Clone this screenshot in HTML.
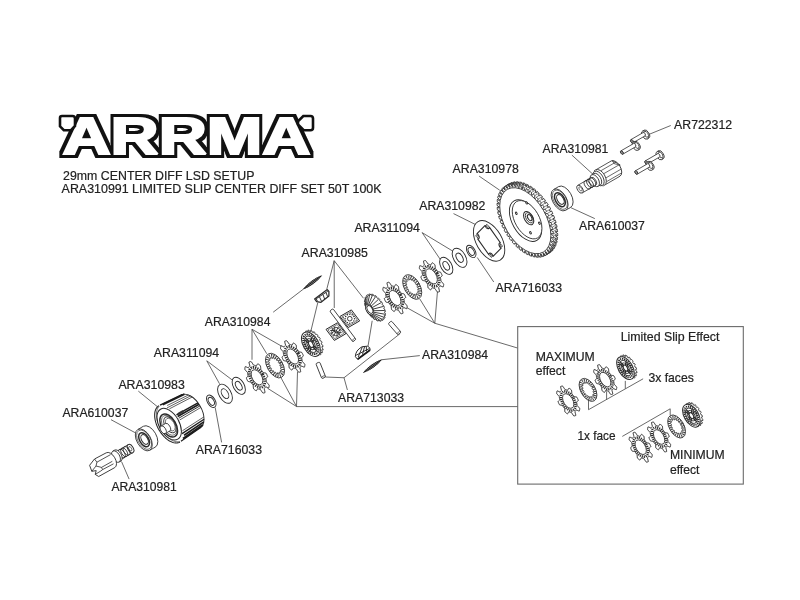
<!DOCTYPE html>
<html><head><meta charset="utf-8"><title>ARRMA 29mm Center Diff LSD Setup</title>
<style>html,body{margin:0;padding:0;background:#fff;}svg{display:block;will-change:transform;}</style></head>
<body>
<svg width="800" height="600" viewBox="0 0 800 600">
<rect width="800" height="600" fill="#fff"/>
<defs><filter id="lg" x="-5%" y="-25%" width="110%" height="150%" color-interpolation-filters="sRGB"><feMorphology in="SourceAlpha" operator="dilate" radius="3" result="o"/><feFlood flood-color="#111"/><feComposite in2="o" operator="in" result="ob"/><feMerge><feMergeNode in="ob"/><feMergeNode in="SourceGraphic"/></feMerge></filter></defs>
<text x="62.5" y="154" textLength="248" lengthAdjust="spacingAndGlyphs" font-family="'Liberation Sans', Arial, sans-serif" font-weight="bold" font-size="52.5" fill="#fff" stroke="#fff" stroke-width="2.2" stroke-linejoin="miter" stroke-miterlimit="2" filter="url(#lg)">ARRMA</text>
<path d="M62 116 H72.5 Q75 116 75 118.5 V126 L71 130.2 H63.8 L60 126.3 V118 Q60 116 62 116Z" fill="#fff" stroke="#111" stroke-width="2.6"/>
<path d="M303.3 116 H310.5 Q313 116 313 118.5 V127.7 Q313 130.2 310.5 130.2 H303.7 L298 124.5 V121.3 Z" fill="#fff" stroke="#111" stroke-width="2.6"/>
<line x1="670.75" y1="125.5" x2="647.5" y2="135" stroke="#444" stroke-width="0.8"/>
<line x1="571.9" y1="155.1" x2="593.75" y2="175" stroke="#444" stroke-width="0.8"/>
<line x1="570.5" y1="207.5" x2="594.8" y2="218.6" stroke="#444" stroke-width="0.8"/>
<line x1="479.1" y1="176.1" x2="499.75" y2="190.25" stroke="#444" stroke-width="0.8"/>
<line x1="453.5" y1="213.6" x2="475" y2="224.3" stroke="#444" stroke-width="0.8"/>
<line x1="422.1" y1="232.6" x2="440.5" y2="259.75" stroke="#444" stroke-width="0.8"/>
<line x1="422.1" y1="232.6" x2="452.2" y2="250.75" stroke="#444" stroke-width="0.8"/>
<line x1="477.25" y1="257.5" x2="493.75" y2="282" stroke="#444" stroke-width="0.8"/>
<line x1="334.2" y1="260.7" x2="326.75" y2="289.25" stroke="#444" stroke-width="0.8"/>
<line x1="334.2" y1="260.7" x2="334.25" y2="308" stroke="#444" stroke-width="0.8"/>
<line x1="334.2" y1="260.7" x2="363.5" y2="298.25" stroke="#444" stroke-width="0.8"/>
<line x1="317.75" y1="302.75" x2="311" y2="330.5" stroke="#444" stroke-width="0.8"/>
<line x1="372.2" y1="320.75" x2="368" y2="346.25" stroke="#444" stroke-width="0.8"/>
<line x1="252" y1="329.3" x2="252" y2="359.75" stroke="#444" stroke-width="0.8"/>
<line x1="252" y1="329.3" x2="266.75" y2="353.75" stroke="#444" stroke-width="0.8"/>
<line x1="252" y1="329.3" x2="281.75" y2="346.25" stroke="#444" stroke-width="0.8"/>
<line x1="273.2" y1="312.2" x2="303.5" y2="289" stroke="#444" stroke-width="0.8"/>
<line x1="381.5" y1="359.75" x2="419.8" y2="355.6" stroke="#444" stroke-width="0.8"/>
<line x1="267.5" y1="388.25" x2="296.5" y2="406.5" stroke="#444" stroke-width="0.8"/>
<line x1="281" y1="377.75" x2="296.5" y2="406.5" stroke="#444" stroke-width="0.8"/>
<line x1="297.5" y1="371.75" x2="296.5" y2="406.5" stroke="#444" stroke-width="0.8"/>
<line x1="296.5" y1="406.6" x2="518" y2="406.6" stroke="#444" stroke-width="0.8"/>
<line x1="437.5" y1="291" x2="434.8" y2="323.25" stroke="#444" stroke-width="0.8"/>
<line x1="419.5" y1="298.5" x2="434.8" y2="323.25" stroke="#444" stroke-width="0.8"/>
<line x1="405.25" y1="306.75" x2="434.8" y2="323.25" stroke="#444" stroke-width="0.8"/>
<line x1="434.8" y1="323.25" x2="517.5" y2="348" stroke="#444" stroke-width="0.8"/>
<polyline points="347.4,390 344,377.75 325.25,377" fill="none" stroke="#444" stroke-width="0.8"/>
<line x1="344" y1="377.75" x2="400.25" y2="333.5" stroke="#444" stroke-width="0.8"/>
<line x1="206.75" y1="360.8" x2="219.5" y2="383.75" stroke="#444" stroke-width="0.8"/>
<line x1="206.75" y1="360.8" x2="232.25" y2="380" stroke="#444" stroke-width="0.8"/>
<line x1="215.2" y1="407.5" x2="221.6" y2="442.4" stroke="#444" stroke-width="0.8"/>
<line x1="138.3" y1="391.1" x2="159" y2="408" stroke="#444" stroke-width="0.8"/>
<line x1="111" y1="419.7" x2="137" y2="433.7" stroke="#444" stroke-width="0.8"/>
<line x1="121.5" y1="461.5" x2="129.1" y2="479.1" stroke="#444" stroke-width="0.8"/>
<rect x="517.7" y="326.6" width="225.6" height="157.5" fill="none" stroke="#6a6a6a" stroke-width="1.1"/>
<line x1="643.1" y1="378.8" x2="588.5" y2="409.7" stroke="#444" stroke-width="0.8"/>
<line x1="588.5" y1="398" x2="588.5" y2="409.7" stroke="#444" stroke-width="0.8"/>
<line x1="606.6" y1="391.3" x2="606.6" y2="399.5" stroke="#444" stroke-width="0.8"/>
<line x1="625.3" y1="380.9" x2="625.3" y2="388.7" stroke="#444" stroke-width="0.8"/>
<line x1="622.3" y1="436.4" x2="670.2" y2="408.8" stroke="#444" stroke-width="0.8"/>
<line x1="670.2" y1="408.8" x2="670.2" y2="415.4" stroke="#444" stroke-width="0.8"/>
<ellipse cx="646.39" cy="134.2" rx="2.65" ry="4.6" transform="rotate(-30 646.39 134.2)" fill="#fff" stroke="#2a2a2a" stroke-width="0.8" />
<path d="M647.3 138.98 L648.69 138.18 L644.09 130.22 L642.7 131.02 Z" fill="#fff" stroke="none" stroke-width="0" stroke-linejoin="round" />
<line x1="647.3" y1="138.98" x2="648.69" y2="138.18" stroke="#2a2a2a" stroke-width="0.8"/>
<line x1="642.7" y1="131.02" x2="644.09" y2="130.22" stroke="#2a2a2a" stroke-width="0.8"/>
<ellipse cx="645" cy="135" rx="2.65" ry="4.6" transform="rotate(-30 645 135)" fill="#fff" stroke="#2a2a2a" stroke-width="0.8" />
<ellipse cx="646.2" cy="134.3" rx="1.85" ry="3.2" transform="rotate(-30 646.2 134.3)" fill="#fff" stroke="#2a2a2a" stroke-width="0.7" />
<ellipse cx="644.04" cy="134.24" rx="1.1" ry="1.9" transform="rotate(-30 644.04 134.24)" fill="#fff" stroke="#2a2a2a" stroke-width="0.8" />
<path d="M632.85 142.9 L644.99 135.89 L643.09 132.6 L630.95 139.6 Z" fill="#fff" stroke="none" stroke-width="0" stroke-linejoin="round" />
<line x1="632.85" y1="142.9" x2="644.99" y2="135.89" stroke="#2a2a2a" stroke-width="0.8"/>
<line x1="630.95" y1="139.6" x2="643.09" y2="132.6" stroke="#2a2a2a" stroke-width="0.8"/>
<ellipse cx="631.9" cy="141.25" rx="1.1" ry="1.9" transform="rotate(-30 631.9 141.25)" fill="#fff" stroke="#2a2a2a" stroke-width="0.8" />
<ellipse cx="631.9" cy="141.25" rx="1.1" ry="1.9" transform="rotate(-30 631.9 141.25)" fill="#fff" stroke="#2a2a2a" stroke-width="0.8" />
<ellipse cx="631.9" cy="141.25" rx="0.58" ry="1" transform="rotate(-30 631.9 141.25)" fill="#fff" stroke="#2a2a2a" stroke-width="0.6" />
<ellipse cx="636.99" cy="145.45" rx="2.65" ry="4.6" transform="rotate(-30 636.99 145.45)" fill="#fff" stroke="#2a2a2a" stroke-width="0.8" />
<path d="M637.9 150.23 L639.29 149.43 L634.69 141.47 L633.3 142.27 Z" fill="#fff" stroke="none" stroke-width="0" stroke-linejoin="round" />
<line x1="637.9" y1="150.23" x2="639.29" y2="149.43" stroke="#2a2a2a" stroke-width="0.8"/>
<line x1="633.3" y1="142.27" x2="634.69" y2="141.47" stroke="#2a2a2a" stroke-width="0.8"/>
<ellipse cx="635.6" cy="146.25" rx="2.65" ry="4.6" transform="rotate(-30 635.6 146.25)" fill="#fff" stroke="#2a2a2a" stroke-width="0.8" />
<ellipse cx="636.8" cy="145.55" rx="1.85" ry="3.2" transform="rotate(-30 636.8 145.55)" fill="#fff" stroke="#2a2a2a" stroke-width="0.7" />
<ellipse cx="634.51" cy="145.22" rx="1.1" ry="1.9" transform="rotate(-30 634.51 145.22)" fill="#fff" stroke="#2a2a2a" stroke-width="0.8" />
<path d="M622.85 154.15 L635.46 146.87 L633.56 143.58 L620.95 150.85 Z" fill="#fff" stroke="none" stroke-width="0" stroke-linejoin="round" />
<line x1="622.85" y1="154.15" x2="635.46" y2="146.87" stroke="#2a2a2a" stroke-width="0.8"/>
<line x1="620.95" y1="150.85" x2="633.56" y2="143.58" stroke="#2a2a2a" stroke-width="0.8"/>
<ellipse cx="621.9" cy="152.5" rx="1.1" ry="1.9" transform="rotate(-30 621.9 152.5)" fill="#fff" stroke="#2a2a2a" stroke-width="0.8" />
<ellipse cx="621.9" cy="152.5" rx="1.1" ry="1.9" transform="rotate(-30 621.9 152.5)" fill="#fff" stroke="#2a2a2a" stroke-width="0.8" />
<ellipse cx="621.9" cy="152.5" rx="0.58" ry="1" transform="rotate(-30 621.9 152.5)" fill="#fff" stroke="#2a2a2a" stroke-width="0.6" />
<ellipse cx="660.79" cy="154.8" rx="2.65" ry="4.6" transform="rotate(-30 660.79 154.8)" fill="#fff" stroke="#2a2a2a" stroke-width="0.8" />
<path d="M661.7 159.58 L663.09 158.78 L658.49 150.82 L657.1 151.62 Z" fill="#fff" stroke="none" stroke-width="0" stroke-linejoin="round" />
<line x1="661.7" y1="159.58" x2="663.09" y2="158.78" stroke="#2a2a2a" stroke-width="0.8"/>
<line x1="657.1" y1="151.62" x2="658.49" y2="150.82" stroke="#2a2a2a" stroke-width="0.8"/>
<ellipse cx="659.4" cy="155.6" rx="2.65" ry="4.6" transform="rotate(-30 659.4 155.6)" fill="#fff" stroke="#2a2a2a" stroke-width="0.8" />
<ellipse cx="660.6" cy="154.9" rx="1.85" ry="3.2" transform="rotate(-30 660.6 154.9)" fill="#fff" stroke="#2a2a2a" stroke-width="0.7" />
<ellipse cx="658.68" cy="155.32" rx="1.1" ry="1.9" transform="rotate(-30 658.68 155.32)" fill="#fff" stroke="#2a2a2a" stroke-width="0.8" />
<path d="M647.2 164.15 L659.63 156.97 L657.73 153.68 L645.3 160.85 Z" fill="#fff" stroke="none" stroke-width="0" stroke-linejoin="round" />
<line x1="647.2" y1="164.15" x2="659.63" y2="156.97" stroke="#2a2a2a" stroke-width="0.8"/>
<line x1="645.3" y1="160.85" x2="657.73" y2="153.68" stroke="#2a2a2a" stroke-width="0.8"/>
<ellipse cx="646.25" cy="162.5" rx="1.1" ry="1.9" transform="rotate(-30 646.25 162.5)" fill="#fff" stroke="#2a2a2a" stroke-width="0.8" />
<ellipse cx="646.25" cy="162.5" rx="1.1" ry="1.9" transform="rotate(-30 646.25 162.5)" fill="#fff" stroke="#2a2a2a" stroke-width="0.8" />
<ellipse cx="646.25" cy="162.5" rx="0.58" ry="1" transform="rotate(-30 646.25 162.5)" fill="#fff" stroke="#2a2a2a" stroke-width="0.6" />
<ellipse cx="650.79" cy="165.45" rx="2.65" ry="4.6" transform="rotate(-30 650.79 165.45)" fill="#fff" stroke="#2a2a2a" stroke-width="0.8" />
<path d="M651.7 170.23 L653.09 169.43 L648.49 161.47 L647.1 162.27 Z" fill="#fff" stroke="none" stroke-width="0" stroke-linejoin="round" />
<line x1="651.7" y1="170.23" x2="653.09" y2="169.43" stroke="#2a2a2a" stroke-width="0.8"/>
<line x1="647.1" y1="162.27" x2="648.49" y2="161.47" stroke="#2a2a2a" stroke-width="0.8"/>
<ellipse cx="649.4" cy="166.25" rx="2.65" ry="4.6" transform="rotate(-30 649.4 166.25)" fill="#fff" stroke="#2a2a2a" stroke-width="0.8" />
<ellipse cx="650.6" cy="165.55" rx="1.85" ry="3.2" transform="rotate(-30 650.6 165.55)" fill="#fff" stroke="#2a2a2a" stroke-width="0.7" />
<ellipse cx="648.43" cy="165.47" rx="1.1" ry="1.9" transform="rotate(-30 648.43 165.47)" fill="#fff" stroke="#2a2a2a" stroke-width="0.8" />
<path d="M637.2 174.15 L649.38 167.12 L647.48 163.82 L635.3 170.85 Z" fill="#fff" stroke="none" stroke-width="0" stroke-linejoin="round" />
<line x1="637.2" y1="174.15" x2="649.38" y2="167.12" stroke="#2a2a2a" stroke-width="0.8"/>
<line x1="635.3" y1="170.85" x2="647.48" y2="163.82" stroke="#2a2a2a" stroke-width="0.8"/>
<ellipse cx="636.25" cy="172.5" rx="1.1" ry="1.9" transform="rotate(-30 636.25 172.5)" fill="#fff" stroke="#2a2a2a" stroke-width="0.8" />
<ellipse cx="636.25" cy="172.5" rx="1.1" ry="1.9" transform="rotate(-30 636.25 172.5)" fill="#fff" stroke="#2a2a2a" stroke-width="0.8" />
<ellipse cx="636.25" cy="172.5" rx="0.58" ry="1" transform="rotate(-30 636.25 172.5)" fill="#fff" stroke="#2a2a2a" stroke-width="0.6" />
<ellipse cx="615.5" cy="168.64" rx="5.08" ry="8.8" transform="rotate(-30 615.5 168.64)" fill="#fff" stroke="#2a2a2a" stroke-width="0.8" />
<path d="M602.9 186.08 L619.9 176.27 L611.1 161.02 L594.1 170.84 Z" fill="#fff" stroke="none" stroke-width="0" stroke-linejoin="round" />
<line x1="602.9" y1="186.08" x2="619.9" y2="176.27" stroke="#2a2a2a" stroke-width="0.8"/>
<line x1="594.1" y1="170.84" x2="611.1" y2="161.02" stroke="#2a2a2a" stroke-width="0.8"/>
<path d="M612.17 160.65 L614.34 163.72 L620.28 165.13 L618.32 163.87 Z" fill="#fff" stroke="#2a2a2a" stroke-width="0.7" stroke-linejoin="round" />
<line x1="601.09" y1="170.61" x2="616.18" y2="161.9" stroke="#2a2a2a" stroke-width="0.7"/>
<line x1="603.99" y1="173.56" x2="619.08" y2="164.84" stroke="#2a2a2a" stroke-width="0.7"/>
<line x1="606.1" y1="177.77" x2="621.2" y2="169.05" stroke="#2a2a2a" stroke-width="0.7"/>
<line x1="606.6" y1="181.64" x2="621.69" y2="172.92" stroke="#2a2a2a" stroke-width="0.7"/>
<ellipse cx="600.1" cy="177.56" rx="5.08" ry="8.8" transform="rotate(-30 600.1 177.56)" fill="#fff" stroke="#2a2a2a" stroke-width="0.8" />
<path d="M602.5 185.39 L604.5 185.18 L595.7 169.94 L594.5 171.53 Z" fill="#fff" stroke="none" stroke-width="0" stroke-linejoin="round" />
<ellipse cx="598.5" cy="178.46" rx="4.62" ry="8" transform="rotate(-30 598.5 178.46)" fill="#fff" stroke="#2a2a2a" stroke-width="0.8" />
<ellipse cx="597.05" cy="179.3" rx="3.81" ry="6.6" transform="rotate(-30 597.05 179.3)" fill="#fff" stroke="#2a2a2a" stroke-width="0.8" />
<path d="M598.1 186.31 L600.35 185.01 L593.75 173.58 L591.5 174.88 Z" fill="#fff" stroke="none" stroke-width="0" stroke-linejoin="round" />
<line x1="598.1" y1="186.31" x2="600.35" y2="185.01" stroke="#2a2a2a" stroke-width="0.8"/>
<line x1="591.5" y1="174.88" x2="593.75" y2="173.58" stroke="#2a2a2a" stroke-width="0.8"/>
<ellipse cx="594.8" cy="180.6" rx="3.81" ry="6.6" transform="rotate(-30 594.8 180.6)" fill="#fff" stroke="#2a2a2a" stroke-width="0.8" />
<ellipse cx="593.42" cy="181.39" rx="2.54" ry="4.4" transform="rotate(-30 593.42 181.39)" fill="#fff" stroke="#2a2a2a" stroke-width="0.8" />
<path d="M582.2 192.95 L595.62 185.2 L591.22 177.58 L577.8 185.33 Z" fill="#fff" stroke="none" stroke-width="0" stroke-linejoin="round" />
<line x1="582.2" y1="192.95" x2="595.62" y2="185.2" stroke="#2a2a2a" stroke-width="0.8"/>
<line x1="577.8" y1="185.33" x2="591.22" y2="177.58" stroke="#2a2a2a" stroke-width="0.8"/>
<ellipse cx="580" cy="189.14" rx="2.54" ry="4.4" transform="rotate(-30 580 189.14)" fill="#fff" stroke="#2a2a2a" stroke-width="0.8" />
<ellipse cx="580.5" cy="188.84" rx="1.33" ry="2.3" transform="rotate(-30 580.5 188.84)" fill="#fff" stroke="#2a2a2a" stroke-width="0.6" />
<ellipse cx="587.5" cy="184.81" rx="2.71" ry="4.7" transform="rotate(-30 587.5 184.81)" fill="none" stroke="#2a2a2a" stroke-width="0.8" />
<ellipse cx="590" cy="183.37" rx="2.71" ry="4.7" transform="rotate(-30 590 183.37)" fill="none" stroke="#2a2a2a" stroke-width="0.8" />
<ellipse cx="592.3" cy="182.04" rx="2.71" ry="4.7" transform="rotate(-30 592.3 182.04)" fill="none" stroke="#2a2a2a" stroke-width="0.8" />
<ellipse cx="564.62" cy="197" rx="6.92" ry="12" transform="rotate(-30 564.62 197)" fill="#fff" stroke="#2a2a2a" stroke-width="0.8" />
<path d="M565.6 210.29 L570.62 207.39 L558.62 186.61 L553.6 189.51 Z" fill="#fff" stroke="none" stroke-width="0" stroke-linejoin="round" />
<line x1="565.6" y1="210.29" x2="570.62" y2="207.39" stroke="#2a2a2a" stroke-width="0.8"/>
<line x1="553.6" y1="189.51" x2="558.62" y2="186.61" stroke="#2a2a2a" stroke-width="0.8"/>
<ellipse cx="559.6" cy="199.9" rx="6.92" ry="12" transform="rotate(-30 559.6 199.9)" fill="#fff" stroke="#2a2a2a" stroke-width="0.8" />
<ellipse cx="559.9" cy="199.7" rx="6.12" ry="10.6" transform="rotate(-30 559.9 199.7)" fill="none" stroke="#2a2a2a" stroke-width="0.6" />
<ellipse cx="559.9" cy="199.7" rx="4.44" ry="7.7" transform="rotate(-30 559.9 199.7)" fill="#fff" stroke="#2a2a2a" stroke-width="1.5" />
<ellipse cx="560.4" cy="199.45" rx="3.06" ry="5.3" transform="rotate(-30 560.4 199.45)" fill="#fff" stroke="#2a2a2a" stroke-width="1.0" />
<path d="M549.46 252.96 L549.77 252.78 L550.07 252.58 L550.38 252.38 L550.67 252.17 L549.4 249.51 L549.67 249.3 L549.93 249.08 L551.8 251.24 L552.07 250.99 L552.34 250.73 L552.6 250.46 L552.85 250.19 L551.38 247.61 L551.6 247.34 L551.82 247.06 L553.8 249 L554.02 248.69 L554.24 248.37 L554.45 248.04 L554.65 247.7 L553.01 245.25 L553.19 244.93 L553.36 244.59 L555.41 246.28 L555.58 245.91 L555.75 245.53 L555.91 245.14 L556.06 244.75 L554.27 242.47 L554.4 242.09 L554.53 241.71 L556.61 243.12 L556.73 242.69 L556.85 242.26 L556.95 241.83 L557.05 241.39 L555.14 239.3 L555.22 238.88 L555.29 238.45 L557.39 239.56 L557.45 239.09 L557.51 238.62 L557.56 238.14 L557.61 237.66 L555.6 235.8 L555.63 235.34 L555.65 234.88 L557.72 235.67 L557.73 235.17 L557.73 234.66 L557.73 234.14 L557.72 233.62 L555.65 232.03 L555.63 231.54 L555.6 231.05 L557.61 231.51 L557.56 230.97 L557.51 230.43 L557.45 229.89 L557.38 229.35 L555.29 228.04 L555.22 227.53 L555.14 227.01 L557.05 227.14 L556.95 226.58 L556.84 226.02 L556.73 225.46 L556.61 224.9 L554.52 223.9 L554.4 223.37 L554.27 222.84 L556.06 222.63 L555.9 222.06 L555.74 221.49 L555.58 220.92 L555.4 220.34 L553.36 219.67 L553.18 219.13 L553 218.6 L554.65 218.05 L554.44 217.48 L554.23 216.9 L554.01 216.33 L553.79 215.76 L551.81 215.41 L551.6 214.88 L551.37 214.36 L552.84 213.48 L552.59 212.91 L552.33 212.34 L552.06 211.78 L551.79 211.21 L549.92 211.21 L549.66 210.69 L549.39 210.17 L550.66 208.98 L550.36 208.43 L550.06 207.87 L549.76 207.33 L549.44 206.78 L547.7 207.11 L547.4 206.61 L547.1 206.12 L548.15 204.63 L547.81 204.1 L547.47 203.57 L547.13 203.05 L546.78 202.53 L545.2 203.2 L544.87 202.72 L544.53 202.25 L545.34 200.49 L544.97 200 L544.6 199.5 L544.22 199.01 L543.84 198.53 L542.44 199.52 L542.08 199.08 L541.72 198.64 L542.29 196.64 L541.89 196.18 L541.49 195.73 L541.08 195.28 L540.68 194.84 L539.49 196.14 L539.1 195.74 L538.72 195.34 L539.03 193.13 L538.61 192.72 L538.19 192.31 L537.76 191.91 L537.34 191.52 L536.37 193.1 L535.97 192.75 L535.57 192.41 L535.62 190.02 L535.18 189.66 L534.75 189.31 L534.31 188.96 L533.87 188.62 L533.14 190.47 L532.74 190.17 L532.33 189.88 L532.11 187.35 L531.67 187.05 L531.22 186.76 L530.78 186.47 L530.34 186.2 L529.86 188.28 L529.45 188.03 L529.04 187.8 L528.63 187.57 L528.12 184.93 L527.67 184.7 L527.23 184.49 L526.79 184.27 L526.57 186.55 L526.16 186.37 L525.75 186.2 L525.03 183.51 L524.59 183.34 L524.15 183.18 L523.71 183.03 L523.28 182.89 L523.33 185.33 L522.93 185.22 L522.53 185.11 L521.56 182.41 L521.13 182.31 L520.71 182.22 L520.29 182.14 L519.87 182.06 L520.18 184.63 L519.8 184.58 L519.41 184.54 L518.22 181.86 L517.81 181.84 L517.41 181.82 L517.01 181.81 L516.61 181.81 L517.18 184.46 L516.82 184.48 L516.46 184.51 L515.06 181.9 L514.68 181.94 L514.3 182 L513.93 182.06 L513.56 182.13 L514.37 184.83 L514.04 184.91 L513.7 185 L512.12 182.51 L511.77 182.62 L511.43 182.75 L511.09 182.88 L510.75 183.02 L511.8 185.72 L511.5 185.87 L511.2 186.03 L509.46 183.68 L509.15 183.87 L508.84 184.06 L508.54 184.26 L508.24 184.47 L509.51 187.13 L509.24 187.34 L508.98 187.56 L507.11 185.4 L506.84 185.65 L506.58 185.91 L506.32 186.18 L506.07 186.46 L507.53 189.03 L507.31 189.3 L507.09 189.58 L505.11 187.64 L504.89 187.95 L504.67 188.28 L504.46 188.6 L504.26 188.94 L505.9 191.39 L505.72 191.72 L505.55 192.05 L503.5 190.36 L503.33 190.73 L503.16 191.11 L503 191.5 L502.85 191.89 L504.64 194.18 L504.51 194.55 L504.39 194.93 L502.3 193.52 L502.18 193.95 L502.07 194.38 L501.96 194.81 L501.86 195.26 L503.77 197.34 L503.69 197.76 L503.62 198.19 L501.53 197.08 L501.46 197.55 L501.4 198.02 L501.35 198.5 L501.31 198.99 L503.31 200.84 L503.28 201.3 L503.26 201.76 L501.19 200.97 L501.18 201.48 L501.18 201.99 L501.18 202.5 L501.2 203.02 L503.26 204.61 L503.28 205.1 L503.31 205.59 L501.31 205.13 L501.35 205.67 L501.41 206.21 L501.46 206.75 L501.53 207.3 L503.62 208.6 L503.7 209.11 L503.78 209.63 L501.86 209.5 L501.96 210.06 L502.07 210.62 L502.19 211.18 L502.31 211.75 L504.39 212.75 L504.52 213.27 L504.65 213.8 L502.86 214.01 L503.01 214.58 L503.17 215.15 L503.34 215.73 L503.51 216.3 L505.56 216.98 L505.73 217.51 L505.91 218.04 L504.27 218.59 L504.47 219.16 L504.68 219.74 L504.9 220.31 L505.12 220.88 L507.1 221.23 L507.32 221.76 L507.54 222.29 L506.08 223.17 L506.33 223.73 L506.59 224.3 L506.85 224.86 L507.12 225.43 L508.99 225.43 L509.25 225.95 L509.52 226.47 L508.25 227.66 L508.55 228.22 L508.85 228.77 L509.16 229.32 L509.47 229.86 L511.21 229.53 L511.51 230.03 L511.81 230.53 L512.12 231.02 L511.1 232.54 L511.44 233.07 L511.78 233.59 L512.13 234.11 L513.72 233.44 L514.05 233.92 L514.38 234.39 L513.57 236.15 L513.94 236.65 L514.31 237.14 L514.69 237.63 L515.07 238.11 L516.47 237.12 L516.83 237.56 L517.19 238 L516.63 240 L517.03 240.46 L517.43 240.91 L517.83 241.36 L518.24 241.8 L519.43 240.51 L519.81 240.9 L520.19 241.3 L520.58 241.69 L520.31 243.92 L520.73 244.33 L521.15 244.73 L521.58 245.12 L522.54 243.54 L522.94 243.89 L523.34 244.23 L523.3 246.63 L523.73 246.98 L524.17 247.34 L524.6 247.68 L525.04 248.02 L525.77 246.17 L526.18 246.47 L526.59 246.76 L526.8 249.29 L527.25 249.59 L527.69 249.89 L528.13 250.17 L528.58 250.45 L529.05 248.37 L529.46 248.61 L529.88 248.84 L530.35 251.47 L530.8 251.71 L531.24 251.94 L531.68 252.16 L532.13 252.37 L532.34 250.09 L532.75 250.27 L533.16 250.44 L533.89 253.13 L534.33 253.3 L534.76 253.46 L535.2 253.61 L535.63 253.75 L535.59 251.31 L535.99 251.42 L536.38 251.53 L537.35 254.24 L537.78 254.34 L538.2 254.43 L538.62 254.51 L539.04 254.58 L538.73 252.01 L539.12 252.06 L539.5 252.1 L540.69 254.78 L541.1 254.8 L541.5 254.82 L541.9 254.83 L542.3 254.83 L541.74 252.18 L542.1 252.16 L542.46 252.14 L543.86 254.74 L544.24 254.7 L544.62 254.65 L544.99 254.58 L545.36 254.51 L544.54 251.81 L544.88 251.73 L545.21 251.64 L546.79 254.14 L547.14 254.02 L547.49 253.89 L547.83 253.76 L548.16 253.62 L547.11 250.92 L547.42 250.77 L547.71 250.61 Z" fill="#fff" stroke="#2a2a2a" stroke-width="0.9" stroke-linejoin="round" />
<path d="M545.3 255.36L549.46 252.96M546.63 254.48L550.79 252.08M547.65 253.64L551.8 251.24M548.79 252.47L552.95 250.07M549.64 251.4L553.8 249M550.58 249.96L554.73 247.56M551.25 248.68L555.41 246.28M551.97 246.99L556.12 244.59M552.46 245.52L556.61 243.12M552.93 243.61L557.09 241.21M553.23 241.96L557.39 239.56M553.47 239.86L557.62 237.46M553.56 238.07L557.72 235.67M553.56 235.81L557.71 233.41M553.45 233.91L557.61 231.51M553.2 231.53L557.35 229.13M552.89 229.54L557.05 227.14M552.4 227.07L556.56 224.67M551.9 225.03L556.06 222.63M551.18 222.51L555.33 220.11M550.49 220.45L554.65 218.05M549.54 217.93L553.7 215.53M548.68 215.88L552.84 213.48M547.53 213.39L551.68 210.99M546.5 211.38L550.66 208.98M545.16 208.96L549.32 206.56M543.99 207.03L548.15 204.63M542.48 204.72L546.64 202.32M541.19 202.89L545.34 200.49M539.53 200.74L543.69 198.34M538.13 199.04L542.29 196.64M536.36 197.06L540.52 194.66M534.87 195.53L539.03 193.13M533.01 193.76L537.17 191.36M531.46 192.42L535.62 190.02M529.54 190.89L533.7 188.49M527.95 189.75L532.11 187.35M526 188.49L530.16 186.09M524.4 187.57L528.56 185.17M522.45 186.59L526.61 184.19M520.87 185.91L525.03 183.51M518.95 185.23L523.11 182.83M517.4 184.81L521.56 182.41M515.55 184.44L519.7 182.04M514.06 184.26L518.22 181.86M512.3 184.21L516.45 181.81M510.9 184.3L515.06 181.9M509.25 184.56L513.41 182.16M507.96 184.91L512.12 182.51M506.46 185.48L510.62 183.08M505.3 186.08L509.46 183.68M503.97 186.96L508.12 184.56M502.95 187.8L507.11 185.4M501.81 188.97L505.97 186.57M500.96 190.04L505.11 187.64M500.02 191.48L504.18 189.08M499.35 192.76L503.5 190.36M498.63 194.45L502.79 192.05M498.14 195.92L502.3 193.52M497.67 197.83L501.82 195.43M497.37 199.48L501.53 197.08M497.13 201.58L501.29 199.18M497.04 203.37L501.19 200.97M497.04 205.63L501.2 203.23M497.15 207.53L501.31 205.13M497.4 209.91L501.56 207.51M497.71 211.9L501.86 209.5M498.2 214.37L502.36 211.97M498.7 216.41L502.86 214.01M499.42 218.93L503.58 216.53M500.11 220.99L504.27 218.59M501.06 223.51L505.21 221.11M501.92 225.57L506.08 223.17M503.07 228.05L507.23 225.65M504.1 230.06L508.25 227.66M505.44 232.48L509.6 230.08M506.61 234.41L510.76 232.01M508.12 236.72L512.27 234.32M509.41 238.55L513.57 236.15M511.07 240.71L515.22 238.31M512.47 242.4L516.63 240M514.24 244.38L518.4 241.98M515.73 245.91L519.89 243.51M517.59 247.68L521.75 245.28M519.14 249.03L523.3 246.63M521.06 250.55L525.22 248.15M522.65 251.69L526.8 249.29M524.6 252.96L528.75 250.56M526.2 253.87L530.35 251.47M528.15 254.85L532.3 252.45M529.73 255.53L533.89 253.13M531.65 256.21L535.81 253.81M533.2 256.64L537.35 254.24M535.05 257L539.21 254.6M536.54 257.18L540.69 254.78M538.3 257.23L542.46 254.83M539.7 257.14L543.86 254.74M541.35 256.88L545.5 254.48M542.64 256.54L546.79 254.14M544.14 255.96L548.3 253.56" fill="none" stroke="#333" stroke-width="0.6"/>
<path d="M545.3 255.36 L545.61 255.18 L545.92 254.98 L546.22 254.78 L546.52 254.57 L545.25 251.91 L545.51 251.7 L545.77 251.48 L547.65 253.64 L547.92 253.39 L548.18 253.13 L548.44 252.86 L548.69 252.59 L547.22 250.01 L547.45 249.74 L547.67 249.46 L549.64 251.4 L549.87 251.09 L550.08 250.77 L550.29 250.44 L550.5 250.1 L548.85 247.65 L549.03 247.33 L549.21 246.99 L551.25 248.68 L551.43 248.31 L551.59 247.93 L551.75 247.54 L551.91 247.15 L550.11 244.87 L550.24 244.49 L550.37 244.11 L552.46 245.52 L552.58 245.09 L552.69 244.66 L552.8 244.23 L552.9 243.79 L550.98 241.7 L551.06 241.28 L551.14 240.85 L553.23 241.96 L553.29 241.49 L553.35 241.02 L553.41 240.54 L553.45 240.06 L551.45 238.2 L551.47 237.74 L551.5 237.28 L553.56 238.07 L553.57 237.57 L553.58 237.06 L553.57 236.54 L553.56 236.02 L551.5 234.43 L551.47 233.94 L551.44 233.45 L553.45 233.91 L553.4 233.37 L553.35 232.83 L553.29 232.29 L553.23 231.75 L551.13 230.44 L551.06 229.93 L550.98 229.41 L552.89 229.54 L552.79 228.98 L552.69 228.42 L552.57 227.86 L552.45 227.3 L550.36 226.3 L550.24 225.77 L550.11 225.24 L551.9 225.03 L551.75 224.46 L551.59 223.89 L551.42 223.32 L551.25 222.74 L549.2 222.07 L549.03 221.53 L548.85 221 L550.49 220.45 L550.29 219.88 L550.07 219.3 L549.86 218.73 L549.63 218.16 L547.66 217.81 L547.44 217.28 L547.22 216.76 L548.68 215.88 L548.43 215.31 L548.17 214.74 L547.91 214.18 L547.64 213.61 L545.76 213.61 L545.5 213.09 L545.24 212.57 L546.5 211.38 L546.21 210.83 L545.91 210.27 L545.6 209.73 L545.29 209.18 L543.55 209.51 L543.25 209.01 L542.94 208.52 L543.99 207.03 L543.66 206.5 L543.32 205.97 L542.97 205.45 L542.62 204.93 L541.04 205.6 L540.71 205.12 L540.37 204.65 L541.19 202.89 L540.82 202.4 L540.44 201.9 L540.07 201.41 L539.69 200.93 L538.29 201.92 L537.93 201.48 L537.56 201.04 L538.13 199.04 L537.73 198.58 L537.33 198.13 L536.93 197.68 L536.52 197.24 L535.33 198.54 L534.95 198.14 L534.56 197.74 L534.87 195.53 L534.45 195.12 L534.03 194.71 L533.61 194.31 L533.18 193.92 L532.21 195.5 L531.81 195.15 L531.41 194.81 L531.46 192.42 L531.03 192.06 L530.59 191.71 L530.15 191.36 L529.71 191.02 L528.99 192.87 L528.58 192.57 L528.17 192.28 L527.95 189.75 L527.51 189.45 L527.07 189.16 L526.62 188.87 L526.18 188.6 L525.7 190.68 L525.29 190.43 L524.88 190.2 L524.47 189.97 L523.96 187.33 L523.52 187.1 L523.07 186.89 L522.63 186.67 L522.41 188.95 L522.01 188.77 L521.6 188.6 L520.87 185.91 L520.43 185.74 L519.99 185.58 L519.56 185.43 L519.12 185.29 L519.17 187.73 L518.77 187.62 L518.37 187.51 L517.4 184.81 L516.98 184.71 L516.55 184.62 L516.13 184.54 L515.71 184.46 L516.02 187.03 L515.64 186.98 L515.26 186.94 L514.06 184.26 L513.66 184.24 L513.25 184.22 L512.85 184.21 L512.46 184.21 L513.02 186.86 L512.66 186.88 L512.3 186.91 L510.9 184.3 L510.52 184.34 L510.14 184.4 L509.77 184.46 L509.4 184.53 L510.21 187.23 L509.88 187.31 L509.55 187.4 L507.96 184.91 L507.61 185.02 L507.27 185.15 L506.93 185.28 L506.59 185.42 L507.64 188.12 L507.34 188.27 L507.04 188.43 L505.3 186.08 L504.99 186.27 L504.68 186.46 L504.38 186.66 L504.08 186.87 L505.35 189.53 L505.09 189.74 L504.83 189.96 L502.95 187.8 L502.68 188.05 L502.42 188.31 L502.16 188.58 L501.91 188.86 L503.38 191.43 L503.15 191.7 L502.93 191.98 L500.96 190.04 L500.73 190.35 L500.52 190.68 L500.31 191 L500.1 191.34 L501.75 193.79 L501.57 194.12 L501.39 194.45 L499.35 192.76 L499.17 193.13 L499.01 193.51 L498.85 193.9 L498.69 194.29 L500.49 196.58 L500.36 196.95 L500.23 197.33 L498.14 195.92 L498.02 196.35 L497.91 196.78 L497.8 197.21 L497.7 197.66 L499.62 199.74 L499.54 200.16 L499.46 200.59 L497.37 199.48 L497.31 199.95 L497.25 200.42 L497.19 200.9 L497.15 201.39 L499.15 203.24 L499.13 203.7 L499.1 204.16 L497.04 203.37 L497.03 203.88 L497.02 204.39 L497.03 204.9 L497.04 205.42 L499.1 207.01 L499.13 207.5 L499.16 207.99 L497.15 207.53 L497.2 208.07 L497.25 208.61 L497.31 209.15 L497.37 209.7 L499.47 211 L499.54 211.51 L499.62 212.03 L497.71 211.9 L497.81 212.46 L497.91 213.02 L498.03 213.58 L498.15 214.15 L500.24 215.15 L500.36 215.67 L500.49 216.2 L498.7 216.41 L498.85 216.98 L499.01 217.55 L499.18 218.13 L499.35 218.7 L501.4 219.38 L501.57 219.91 L501.75 220.44 L500.11 220.99 L500.31 221.56 L500.53 222.14 L500.74 222.71 L500.97 223.28 L502.94 223.63 L503.16 224.16 L503.38 224.69 L501.92 225.57 L502.17 226.13 L502.43 226.7 L502.69 227.26 L502.96 227.83 L504.84 227.83 L505.1 228.35 L505.36 228.87 L504.1 230.06 L504.39 230.62 L504.69 231.17 L505 231.72 L505.31 232.26 L507.05 231.93 L507.35 232.43 L507.66 232.93 L507.96 233.42 L506.94 234.94 L507.28 235.47 L507.63 235.99 L507.98 236.51 L509.56 235.84 L509.89 236.32 L510.23 236.79 L509.41 238.55 L509.78 239.05 L510.16 239.54 L510.53 240.03 L510.91 240.51 L512.31 239.52 L512.67 239.96 L513.04 240.4 L512.47 242.4 L512.87 242.86 L513.27 243.31 L513.67 243.76 L514.08 244.2 L515.27 242.91 L515.65 243.3 L516.04 243.7 L516.42 244.09 L516.15 246.32 L516.57 246.73 L516.99 247.13 L517.42 247.52 L518.39 245.94 L518.79 246.29 L519.19 246.63 L519.14 249.03 L519.57 249.38 L520.01 249.74 L520.45 250.08 L520.89 250.42 L521.61 248.57 L522.02 248.87 L522.43 249.16 L522.65 251.69 L523.09 251.99 L523.53 252.29 L523.98 252.57 L524.42 252.85 L524.9 250.77 L525.31 251.01 L525.72 251.24 L526.2 253.87 L526.64 254.11 L527.08 254.34 L527.53 254.56 L527.97 254.77 L528.19 252.49 L528.59 252.67 L529 252.84 L529.73 255.53 L530.17 255.7 L530.61 255.86 L531.04 256.01 L531.48 256.15 L531.43 253.71 L531.83 253.82 L532.23 253.93 L533.2 256.64 L533.62 256.74 L534.05 256.83 L534.47 256.91 L534.89 256.98 L534.58 254.41 L534.96 254.46 L535.34 254.5 L536.54 257.18 L536.94 257.2 L537.35 257.22 L537.75 257.23 L538.14 257.23 L537.58 254.58 L537.94 254.56 L538.3 254.54 L539.7 257.14 L540.08 257.1 L540.46 257.05 L540.83 256.98 L541.2 256.91 L540.39 254.21 L540.72 254.13 L541.05 254.04 L542.64 256.54 L542.99 256.42 L543.33 256.29 L543.67 256.16 L544.01 256.02 L542.96 253.32 L543.26 253.17 L543.56 253.01 Z" fill="#fff" stroke="#2a2a2a" stroke-width="0.9" stroke-linejoin="round" />
<ellipse cx="525.3" cy="220.72" rx="20.89" ry="36.2" transform="rotate(-30 525.3 220.72)" fill="#fff" stroke="#2a2a2a" stroke-width="0.8" />
<ellipse cx="525.5" cy="220.62" rx="13.16" ry="22.8" transform="rotate(-30 525.5 220.62)" fill="#fff" stroke="#2a2a2a" stroke-width="0.9" />
<ellipse cx="527.1" cy="219.72" rx="12.12" ry="21" transform="rotate(-30 527.1 219.72)" fill="#fff" stroke="#2a2a2a" stroke-width="0.8" />
<ellipse cx="528.7" cy="218.12" rx="4.21" ry="7.3" transform="rotate(-30 528.7 218.12)" fill="#fff" stroke="#2a2a2a" stroke-width="1.0" />
<ellipse cx="529.3" cy="217.77" rx="3.23" ry="5.6" transform="rotate(-30 529.3 217.77)" fill="none" stroke="#2a2a2a" stroke-width="0.8" />
<ellipse cx="529.7" cy="217.62" rx="1.9" ry="3.3" transform="rotate(-30 529.7 217.62)" fill="#fff" stroke="#2a2a2a" stroke-width="1.1" />
<ellipse cx="516.3" cy="213.3" rx="0.75" ry="1.3" transform="rotate(-30 516.3 213.3)" fill="#fff" stroke="#2a2a2a" stroke-width="0.9" />
<ellipse cx="526.6" cy="202.9" rx="0.75" ry="1.3" transform="rotate(-30 526.6 202.9)" fill="#fff" stroke="#2a2a2a" stroke-width="0.9" />
<ellipse cx="539.4" cy="223.2" rx="0.75" ry="1.3" transform="rotate(-30 539.4 223.2)" fill="#fff" stroke="#2a2a2a" stroke-width="0.9" />
<ellipse cx="530.5" cy="232.8" rx="0.75" ry="1.3" transform="rotate(-30 530.5 232.8)" fill="#fff" stroke="#2a2a2a" stroke-width="0.9" />
<ellipse cx="489.1" cy="240.9" rx="12.81" ry="22.2" transform="rotate(-30 489.1 240.9)" fill="#fff" stroke="#2a2a2a" stroke-width="0.9" />
<path d="M488.87 254.71 L488.91 254.15 L489.08 253.69 L489.35 253.35 L489.72 253.16 L490.17 253.13 L490.66 253.25 L491.17 253.52 L491.66 253.93 L492.12 254.45 L492.52 255.05 L492.82 255.7 L493.02 256.36 L501.17 248.15 L500.67 247.8 L500.19 247.33 L499.76 246.77 L499.41 246.14 L499.16 245.48 L499.02 244.83 L499 244.24 L499.1 243.72 L499.32 243.32 L499.65 243.05 L500.05 242.93 L500.52 242.97 L489.33 227.09 L489.29 227.65 L489.12 228.11 L488.85 228.45 L488.48 228.64 L488.03 228.67 L487.54 228.55 L487.03 228.28 L486.54 227.87 L486.08 227.35 L485.68 226.75 L485.38 226.1 L485.18 225.44 L477.03 233.65 L477.53 234 L478.01 234.47 L478.44 235.03 L478.79 235.66 L479.04 236.32 L479.18 236.97 L479.2 237.56 L479.1 238.08 L478.88 238.48 L478.55 238.75 L478.15 238.87 L477.68 238.83 Z" fill="#fff" stroke="#2a2a2a" stroke-width="1.1" stroke-linejoin="round" />
<ellipse cx="490.99" cy="255.86" rx="0.87" ry="1.5" transform="rotate(-30 490.99 255.86)" fill="#fff" stroke="#2a2a2a" stroke-width="0.8" />
<ellipse cx="501.11" cy="245.67" rx="0.87" ry="1.5" transform="rotate(-30 501.11 245.67)" fill="#fff" stroke="#2a2a2a" stroke-width="0.8" />
<ellipse cx="487.21" cy="225.94" rx="0.87" ry="1.5" transform="rotate(-30 487.21 225.94)" fill="#fff" stroke="#2a2a2a" stroke-width="0.8" />
<ellipse cx="477.09" cy="236.13" rx="0.87" ry="1.5" transform="rotate(-30 477.09 236.13)" fill="#fff" stroke="#2a2a2a" stroke-width="0.8" />
<ellipse cx="471.2" cy="251.4" rx="3.92" ry="6.8" transform="rotate(-30 471.2 251.4)" fill="#fff" stroke="#2a2a2a" stroke-width="0.9" />
<ellipse cx="471.2" cy="251.4" rx="2.54" ry="4.4" transform="rotate(-30 471.2 251.4)" fill="#fff" stroke="#2a2a2a" stroke-width="0.9" />
<ellipse cx="459.6" cy="257.8" rx="6.06" ry="10.5" transform="rotate(-30 459.6 257.8)" fill="#fff" stroke="#2a2a2a" stroke-width="0.9" />
<ellipse cx="459.6" cy="257.8" rx="2.94" ry="5.1" transform="rotate(-30 459.6 257.8)" fill="#fff" stroke="#2a2a2a" stroke-width="0.9" />
<ellipse cx="446.25" cy="265.8" rx="5.42" ry="9.4" transform="rotate(-30 446.25 265.8)" fill="#fff" stroke="#2a2a2a" stroke-width="0.9" />
<ellipse cx="446.25" cy="265.8" rx="2.71" ry="4.7" transform="rotate(-30 446.25 265.8)" fill="#fff" stroke="#2a2a2a" stroke-width="0.9" />
<path d="M439.15 289.55 L438.95 288.79 L438.72 288.02 L438.67 287.59 L438.82 287.47 L438.97 287.34 L439.11 287.21 L439.25 287.07 L439.38 286.93 L439.5 286.78 L439.63 286.62 L439.74 286.45 L439.86 286.28 L439.96 286.11 L440.06 285.92 L440.16 285.74 L440.6 285.91 L441.19 286.22 L441.79 286.49 L442.39 286.74 L442.99 286.96 L443.29 286.88 L443.36 286.58 L443.43 286.29 L443.49 285.98 L443.55 285.68 L443.6 285.36 L443.64 285.04 L443.67 284.72 L443.7 284.38 L443.38 283.84 L442.85 283.18 L442.32 282.55 L441.78 281.95 L441.23 281.37 L440.95 280.95 L440.93 280.67 L440.9 280.39 L440.87 280.11 L440.83 279.82 L440.79 279.53 L440.74 279.24 L440.69 278.95 L440.63 278.66 L440.56 278.36 L440.49 278.06 L440.42 277.77 L440.34 277.47 L440.6 277.2 L441 276.92 L441.38 276.61 L441.74 276.26 L442.08 275.88 L442.14 275.49 L441.99 275.1 L441.83 274.71 L441.67 274.33 L441.5 273.94 L441.32 273.56 L441.14 273.18 L440.95 272.8 L440.76 272.42 L440.31 272.17 L439.72 272.01 L439.15 271.89 L438.59 271.8 L438.04 271.74 L437.68 271.59 L437.51 271.32 L437.33 271.04 L437.14 270.77 L436.95 270.51 L436.76 270.24 L436.57 269.99 L436.37 269.73 L436.17 269.48 L435.96 269.23 L435.76 268.99 L435.55 268.75 L435.34 268.52 L435.27 267.97 L435.24 267.27 L435.18 266.54 L435.09 265.8 L434.98 265.05 L434.76 264.57 L434.47 264.32 L434.18 264.07 L433.88 263.83 L433.59 263.59 L433.29 263.37 L432.99 263.15 L432.69 262.94 L432.4 262.73 L432.08 262.92 L431.78 263.35 L431.5 263.81 L431.24 264.29 L431.02 264.79 L430.8 264.99 L430.57 264.88 L430.34 264.77 L430.11 264.68 L429.88 264.59 L429.65 264.5 L429.42 264.43 L429.2 264.36 L428.97 264.3 L428.75 264.24 L428.53 264.2 L428.31 264.16 L428.09 264.12 L427.73 263.61 L427.29 262.9 L426.83 262.19 L426.34 261.49 L425.84 260.8 L425.47 260.53 L425.21 260.55 L424.95 260.59 L424.7 260.63 L424.46 260.69 L424.21 260.75 L423.97 260.82 L423.74 260.9 L423.51 260.99 L423.51 261.51 L423.67 262.28 L423.85 263.05 L424.05 263.81 L424.28 264.58 L424.33 265.01 L424.18 265.13 L424.03 265.26 L423.89 265.39 L423.75 265.53 L423.62 265.67 L423.5 265.82 L423.37 265.98 L423.26 266.15 L423.14 266.32 L423.04 266.49 L422.94 266.68 L422.84 266.86 L422.4 266.69 L421.81 266.38 L421.21 266.11 L420.61 265.86 L420.01 265.64 L419.71 265.72 L419.64 266.02 L419.57 266.31 L419.51 266.62 L419.45 266.92 L419.4 267.24 L419.36 267.56 L419.33 267.88 L419.3 268.22 L419.62 268.76 L420.15 269.42 L420.68 270.05 L421.22 270.65 L421.77 271.23 L422.05 271.65 L422.07 271.93 L422.1 272.21 L422.13 272.49 L422.17 272.78 L422.21 273.07 L422.26 273.36 L422.31 273.65 L422.37 273.94 L422.44 274.24 L422.51 274.54 L422.58 274.83 L422.66 275.13 L422.4 275.4 L422 275.68 L421.62 275.99 L421.26 276.34 L420.92 276.72 L420.86 277.11 L421.01 277.5 L421.17 277.89 L421.33 278.27 L421.5 278.66 L421.68 279.04 L421.86 279.42 L422.05 279.8 L422.24 280.18 L422.69 280.43 L423.28 280.59 L423.85 280.71 L424.41 280.8 L424.96 280.86 L425.32 281.01 L425.49 281.28 L425.67 281.56 L425.86 281.83 L426.05 282.09 L426.24 282.36 L426.43 282.61 L426.63 282.87 L426.83 283.12 L427.04 283.37 L427.24 283.61 L427.45 283.85 L427.66 284.08 L427.73 284.63 L427.76 285.33 L427.82 286.06 L427.91 286.8 L428.02 287.55 L428.24 288.03 L428.53 288.28 L428.82 288.53 L429.12 288.77 L429.41 289.01 L429.71 289.23 L430.01 289.45 L430.31 289.66 L430.6 289.87 L430.92 289.68 L431.22 289.25 L431.5 288.79 L431.76 288.31 L431.98 287.81 L432.2 287.61 L432.43 287.72 L432.66 287.83 L432.89 287.92 L433.12 288.01 L433.35 288.1 L433.58 288.17 L433.8 288.24 L434.03 288.3 L434.25 288.36 L434.47 288.4 L434.69 288.44 L434.91 288.48 L435.27 288.99 L435.71 289.7 L436.17 290.41 L436.66 291.11 L437.16 291.8 L437.53 292.07 L437.79 292.05 L438.05 292.01 L438.3 291.97 L438.54 291.91 L438.79 291.85 L439.03 291.78 L439.26 291.7 L439.49 291.61 L439.49 291.09 L439.33 290.32 Z" fill="#fff" stroke="#2a2a2a" stroke-width="1.0" stroke-linejoin="round" />
<ellipse cx="431.5" cy="276.3" rx="6.32" ry="10.95" transform="rotate(-30 431.5 276.3)" fill="none" stroke="#303030" stroke-width="2.856" stroke-dasharray="1.29 0.94"/>
<ellipse cx="431.5" cy="276.3" rx="4.79" ry="8.3" transform="rotate(-30 431.5 276.3)" fill="#fff" stroke="#2a2a2a" stroke-width="0.8" />
<ellipse cx="412.2" cy="287" rx="7.79" ry="13.5" transform="rotate(-30 412.2 287)" fill="#fff" stroke="#2a2a2a" stroke-width="0.8" />
<ellipse cx="412.2" cy="287" rx="6.46" ry="11.2" transform="rotate(-30 412.2 287)" fill="none" stroke="#444" stroke-width="2.8" stroke-dasharray="1.12 1.18"/>
<path d="M416.15 293.84 L416.3 293.75 L416.45 293.64 L416.59 293.53 L417.46 294.45 L417.61 294.3 L417.75 294.13 L417.88 293.95 L418 293.76 L418.11 293.56 L417.36 292.45 L417.44 292.26 L417.51 292.06 L417.58 291.86 L417.63 291.64 L418.58 292.15 L418.62 291.89 L418.66 291.61 L418.68 291.33 L418.7 291.05 L417.78 290.23 L417.78 289.97 L417.77 289.71 L417.75 289.45 L417.72 289.18 L418.58 289.22 L418.52 288.9 L418.46 288.58 L418.38 288.25 L418.3 287.93 L417.36 287.51 L417.27 287.23 L417.18 286.95 L417.07 286.66 L416.96 286.38 L417.61 285.95 L417.46 285.62 L417.31 285.3 L417.14 284.98 L416.97 284.66 L416.15 284.72 L415.99 284.45 L415.83 284.19 L415.66 283.93 L415.48 283.68 L415.81 282.84 L415.6 282.56 L415.38 282.28 L415.15 282.01 L414.92 281.75 L414.34 282.28 L414.13 282.07 L413.92 281.86 L413.71 281.67 L413.72 280.57 L413.47 280.37 L413.22 280.17 L412.96 279.98 L412.71 279.81 L412.45 279.64 L412.2 280.55 L411.98 280.43 L411.76 280.32 L411.54 280.22 L411.18 278.99 L410.93 278.9 L410.68 278.82 L410.43 278.75 L410.19 278.7 L409.95 278.65 L410.06 279.81 L409.86 279.79 L409.66 279.79 L409.47 279.8 L408.8 278.63 L408.59 278.67 L408.38 278.72 L408.17 278.78 L407.97 278.85 L407.78 278.93 L408.25 280.16 L408.1 280.25 L407.95 280.36 L407.81 280.47 L406.94 279.55 L406.79 279.7 L406.65 279.87 L406.52 280.05 L406.4 280.24 L406.29 280.44 L407.04 281.55 L406.96 281.74 L406.89 281.94 L406.82 282.14 L405.88 281.59 L405.82 281.85 L405.78 282.11 L405.74 282.39 L405.72 282.67 L405.7 282.95 L406.62 283.77 L406.62 284.03 L406.63 284.29 L406.65 284.55 L405.78 284.46 L405.82 284.78 L405.88 285.1 L405.94 285.42 L406.02 285.75 L406.1 286.07 L407.04 286.49 L407.13 286.77 L407.22 287.05 L407.33 287.34 L407.44 287.62 L406.79 288.05 L406.94 288.38 L407.09 288.7 L407.26 289.02 L407.43 289.34 L408.25 289.28 L408.41 289.55 L408.57 289.81 L408.74 290.07 L408.38 290.87 L408.59 291.16 L408.8 291.44 L409.02 291.72 L409.25 291.99 L409.48 292.25 L409.71 292.5 L410.27 291.93 L410.48 292.14 L410.69 292.33 L410.9 292.52 L410.93 293.63 L411.18 293.83 L411.44 294.02 L411.69 294.19 L411.95 294.36 L412.2 293.45 L412.42 293.57 L412.64 293.68 L412.86 293.78 L413.22 295.01 L413.47 295.1 L413.72 295.18 L413.97 295.25 L414.21 295.3 L414.45 295.35 L414.69 295.38 L414.54 294.21 L414.74 294.21 L414.93 294.2 L415.6 295.37 L415.81 295.33 L416.02 295.28 L416.23 295.22 L416.43 295.15 L416.62 295.07 Z" fill="#fff" stroke="#2a2a2a" stroke-width="0.8" stroke-linejoin="round" />
<path d="M402.65 311.25 L402.45 310.49 L402.22 309.72 L402.17 309.29 L402.32 309.17 L402.47 309.04 L402.61 308.91 L402.75 308.77 L402.88 308.63 L403 308.48 L403.13 308.32 L403.24 308.15 L403.36 307.98 L403.46 307.81 L403.56 307.62 L403.66 307.44 L404.1 307.61 L404.69 307.92 L405.29 308.19 L405.89 308.44 L406.49 308.66 L406.79 308.58 L406.86 308.28 L406.93 307.99 L406.99 307.68 L407.05 307.38 L407.1 307.06 L407.14 306.74 L407.17 306.42 L407.2 306.08 L406.88 305.54 L406.35 304.88 L405.82 304.25 L405.28 303.65 L404.73 303.07 L404.45 302.65 L404.43 302.37 L404.4 302.09 L404.37 301.81 L404.33 301.52 L404.29 301.23 L404.24 300.94 L404.19 300.65 L404.13 300.36 L404.06 300.06 L403.99 299.76 L403.92 299.47 L403.84 299.17 L404.1 298.9 L404.5 298.62 L404.88 298.31 L405.24 297.96 L405.58 297.58 L405.64 297.19 L405.49 296.8 L405.33 296.41 L405.17 296.03 L405 295.64 L404.82 295.26 L404.64 294.88 L404.45 294.5 L404.26 294.12 L403.81 293.87 L403.22 293.71 L402.65 293.59 L402.09 293.5 L401.54 293.44 L401.18 293.29 L401.01 293.02 L400.83 292.74 L400.64 292.47 L400.45 292.21 L400.26 291.94 L400.07 291.69 L399.87 291.43 L399.67 291.18 L399.46 290.93 L399.26 290.69 L399.05 290.45 L398.84 290.22 L398.77 289.67 L398.74 288.97 L398.68 288.24 L398.59 287.5 L398.48 286.75 L398.26 286.27 L397.97 286.02 L397.68 285.77 L397.38 285.53 L397.09 285.29 L396.79 285.07 L396.49 284.85 L396.19 284.64 L395.9 284.43 L395.58 284.62 L395.28 285.05 L395 285.51 L394.74 285.99 L394.52 286.49 L394.3 286.69 L394.07 286.58 L393.84 286.47 L393.61 286.38 L393.38 286.29 L393.15 286.2 L392.92 286.13 L392.7 286.06 L392.47 286 L392.25 285.94 L392.03 285.9 L391.81 285.86 L391.59 285.82 L391.23 285.31 L390.79 284.6 L390.33 283.89 L389.84 283.19 L389.34 282.5 L388.97 282.23 L388.71 282.25 L388.45 282.29 L388.2 282.33 L387.96 282.39 L387.71 282.45 L387.47 282.52 L387.24 282.6 L387.01 282.69 L387.01 283.21 L387.17 283.98 L387.35 284.75 L387.55 285.51 L387.78 286.28 L387.83 286.71 L387.68 286.83 L387.53 286.96 L387.39 287.09 L387.25 287.23 L387.12 287.37 L387 287.52 L386.87 287.68 L386.76 287.85 L386.64 288.02 L386.54 288.19 L386.44 288.38 L386.34 288.56 L385.9 288.39 L385.31 288.08 L384.71 287.81 L384.11 287.56 L383.51 287.34 L383.21 287.42 L383.14 287.72 L383.07 288.01 L383.01 288.32 L382.95 288.62 L382.9 288.94 L382.86 289.26 L382.83 289.58 L382.8 289.92 L383.12 290.46 L383.65 291.12 L384.18 291.75 L384.72 292.35 L385.27 292.93 L385.55 293.35 L385.57 293.63 L385.6 293.91 L385.63 294.19 L385.67 294.48 L385.71 294.77 L385.76 295.06 L385.81 295.35 L385.87 295.64 L385.94 295.94 L386.01 296.24 L386.08 296.53 L386.16 296.83 L385.9 297.1 L385.5 297.38 L385.12 297.69 L384.76 298.04 L384.42 298.42 L384.36 298.81 L384.51 299.2 L384.67 299.59 L384.83 299.97 L385 300.36 L385.18 300.74 L385.36 301.12 L385.55 301.5 L385.74 301.88 L386.19 302.13 L386.78 302.29 L387.35 302.41 L387.91 302.5 L388.46 302.56 L388.82 302.71 L388.99 302.98 L389.17 303.26 L389.36 303.53 L389.55 303.79 L389.74 304.06 L389.93 304.31 L390.13 304.57 L390.33 304.82 L390.54 305.07 L390.74 305.31 L390.95 305.55 L391.16 305.78 L391.23 306.33 L391.26 307.03 L391.32 307.76 L391.41 308.5 L391.52 309.25 L391.74 309.73 L392.03 309.98 L392.32 310.23 L392.62 310.47 L392.91 310.71 L393.21 310.93 L393.51 311.15 L393.81 311.36 L394.1 311.57 L394.42 311.38 L394.72 310.95 L395 310.49 L395.26 310.01 L395.48 309.51 L395.7 309.31 L395.93 309.42 L396.16 309.53 L396.39 309.62 L396.62 309.71 L396.85 309.8 L397.08 309.87 L397.3 309.94 L397.53 310 L397.75 310.06 L397.97 310.1 L398.19 310.14 L398.41 310.18 L398.77 310.69 L399.21 311.4 L399.67 312.11 L400.16 312.81 L400.66 313.5 L401.03 313.77 L401.29 313.75 L401.55 313.71 L401.8 313.67 L402.04 313.61 L402.29 313.55 L402.53 313.48 L402.76 313.4 L402.99 313.31 L402.99 312.79 L402.83 312.02 Z" fill="#fff" stroke="#2a2a2a" stroke-width="1.0" stroke-linejoin="round" />
<ellipse cx="395" cy="298" rx="6.32" ry="10.95" transform="rotate(-30 395 298)" fill="none" stroke="#303030" stroke-width="2.856" stroke-dasharray="1.29 0.94"/>
<ellipse cx="395" cy="298" rx="4.79" ry="8.3" transform="rotate(-30 395 298)" fill="#fff" stroke="#2a2a2a" stroke-width="0.8" />
<path d="M382.45 320.5 L382.74 320.33 L383.01 320.13 L383.27 319.91 L383.52 319.67 L383 318.39 L383.2 318.14 L383.39 317.87 L384.39 318.54 L384.57 318.22 L384.73 317.88 L384.88 317.52 L385.02 317.15 L384.25 315.96 L384.35 315.59 L384.43 315.21 L385.4 315.51 L385.46 315.07 L385.5 314.62 L385.52 314.16 L385.53 313.68 L384.61 312.71 L384.58 312.27 L384.55 311.81 L385.4 311.71 L385.33 311.19 L385.24 310.68 L385.14 310.15 L385.02 309.63 L384.02 308.97 L383.88 308.48 L383.73 308 L384.38 307.5 L384.19 306.97 L383.98 306.43 L383.76 305.9 L383.52 305.37 L382.55 305.09 L382.31 304.61 L382.06 304.14 L382.45 303.3 L382.15 302.8 L381.84 302.3 L381.52 301.81 L381.19 301.34 L380.34 301.45 L380.02 301.04 L379.69 300.63 L379.78 299.52 L379.41 299.1 L379.03 298.69 L378.64 298.29 L378.25 297.91 L377.61 298.42 L377.24 298.1 L376.87 297.79 L376.64 296.54 L376.23 296.24 L375.82 295.95 L375.41 295.68 L375 295.44 L374.62 296.29 L374.24 296.1 L373.87 295.92 L373.35 294.63 L372.94 294.48 L372.54 294.35 L372.14 294.24 L371.74 294.15 L371.67 295.26 L371.32 295.22 L370.97 295.19 L370.22 294 L369.85 294.01 L369.49 294.05 L369.15 294.11 L368.81 294.18 L369.05 295.44 L368.75 295.55 L368.47 295.68 L367.55 294.7 L367.26 294.87 L366.99 295.07 L366.73 295.29 L366.48 295.53 L367 296.81 L366.8 297.06 L366.61 297.33 L366.43 297.61 L365.43 296.98 L365.27 297.32 L365.12 297.68 L364.98 298.05 L365.75 299.24 L365.65 299.61 L365.57 299.99 L364.6 299.69 L364.54 300.13 L364.5 300.58 L364.48 301.04 L364.47 301.52 L365.39 302.49 L365.42 302.93 L365.45 303.39 L364.6 303.49 L364.67 304.01 L364.76 304.52 L364.86 305.05 L364.98 305.57 L365.98 306.23 L366.12 306.72 L366.27 307.2 L365.62 307.7 L365.81 308.23 L366.02 308.77 L366.24 309.3 L366.48 309.83 L367.45 310.11 L367.69 310.59 L367.94 311.06 L367.55 311.9 L367.85 312.4 L368.16 312.9 L368.48 313.39 L368.81 313.86 L369.66 313.75 L369.98 314.16 L370.31 314.57 L370.22 315.68 L370.59 316.1 L370.97 316.51 L371.36 316.91 L371.75 317.29 L372.39 316.78 L372.76 317.1 L373.13 317.41 L373.36 318.66 L373.77 318.96 L374.18 319.25 L374.59 319.52 L375 319.76 L375.38 318.91 L375.76 319.1 L376.13 319.28 L376.65 320.57 L377.06 320.72 L377.46 320.85 L377.86 320.96 L378.26 321.05 L378.33 319.94 L378.68 319.98 L379.03 320.01 L379.78 321.2 L380.15 321.19 L380.51 321.15 L380.85 321.09 L381.19 321.02 L380.95 319.76 L381.25 319.65 L381.53 319.52 Z" fill="#fff" stroke="#2a2a2a" stroke-width="0.9" stroke-linejoin="round" />
<path d="M372.63 314.3L382.73 319.59M373.27 313.44L384.36 317.41M373.55 312.21L385.08 314.27M373.44 310.73L384.81 310.47M372.96 309.13L383.58 306.4M372.15 307.58L381.51 302.44M371.09 306.23L378.81 298.99M369.88 305.21L375.73 296.38M368.65 304.61L372.58 294.87M367.51 304.51L369.66 294.6M366.57 304.9L367.27 295.61M365.93 305.76L365.64 297.79M365.65 306.99L364.92 300.93M365.76 308.47L365.19 304.73M366.24 310.07L366.42 308.8M367.05 311.62L368.49 312.76M368.11 312.97L371.19 316.21M369.32 313.99L374.27 318.82M370.55 314.59L377.42 320.33M371.69 314.69L380.34 320.6" fill="none" stroke="#2a2a2a" stroke-width="0.9"/>
<ellipse cx="369.6" cy="309.6" rx="3.35" ry="5.8" transform="rotate(-30 369.6 309.6)" fill="#fff" stroke="#2a2a2a" stroke-width="0.9" />
<ellipse cx="369.9" cy="309.4" rx="2.42" ry="4.2" transform="rotate(-30 369.9 309.4)" fill="#fff" stroke="#2a2a2a" stroke-width="0.9" />
<g transform="translate(389.75 322.25) rotate(49.09)"><rect x="0" y="-2.1" width="14.89" height="4.2" rx="1.2" fill="#fff" stroke="#2a2a2a" stroke-width="0.8"/><ellipse cx="13.99" cy="0" rx="0.9" ry="2.1" fill="#fff" stroke="#2a2a2a" stroke-width="0.6"/></g>
<g transform="translate(317.75 362.75) rotate(68.2)"><rect x="0" y="-2.1" width="16.16" height="4.2" rx="1.2" fill="#fff" stroke="#2a2a2a" stroke-width="0.8"/><ellipse cx="15.26" cy="0" rx="0.9" ry="2.1" fill="#fff" stroke="#2a2a2a" stroke-width="0.6"/></g>
<path d="M314.6 298.9 L327.3 289.6 L328.9 291.5 L328.9 296 L321 302.3 L316.6 301.6 Z" fill="#fff" stroke="#2a2a2a" stroke-width="1.25" stroke-linejoin="round" />
<path d="M316.2 298.8L327.8 291.2M319.5 297L321.6 301.4M323 294.6L324.6 299M326 292.5L327.6 296.6M316.2 298.8L317.6 301.4" fill="none" stroke="#2a2a2a" stroke-width="0.95"/>
<path d="M339.94 316.48 L348.22 327.52 L359.66 320.92 L351.38 309.88 Z" fill="#fff" stroke="#2a2a2a" stroke-width="1.0" stroke-linejoin="round" />
<path d="M341.85 316.87 L348.57 325.83 L357.75 320.53 L351.03 311.57 Z" fill="none" stroke="#2a2a2a" stroke-width="0.6" stroke-linejoin="round" />
<circle cx="349.8" cy="318.7" r="2.3" fill="#fff" stroke="#2a2a2a" stroke-width="0.9"/>
<circle cx="354.5" cy="318.7" r="0.7" fill="#222"/>
<circle cx="353.87" cy="320.95" r="0.7" fill="#222"/>
<circle cx="352.15" cy="322.6" r="0.7" fill="#222"/>
<circle cx="349.8" cy="323.2" r="0.7" fill="#222"/>
<circle cx="347.45" cy="322.6" r="0.7" fill="#222"/>
<circle cx="345.73" cy="320.95" r="0.7" fill="#222"/>
<circle cx="345.1" cy="318.7" r="0.7" fill="#222"/>
<circle cx="345.73" cy="316.45" r="0.7" fill="#222"/>
<circle cx="347.45" cy="314.8" r="0.7" fill="#222"/>
<circle cx="349.8" cy="314.2" r="0.7" fill="#222"/>
<circle cx="352.15" cy="314.8" r="0.7" fill="#222"/>
<circle cx="353.87" cy="316.45" r="0.7" fill="#222"/>
<circle cx="343.46" cy="317.2" r="0.55" fill="#222"/>
<circle cx="348.86" cy="324.4" r="0.55" fill="#222"/>
<circle cx="356.14" cy="320.2" r="0.55" fill="#222"/>
<circle cx="350.74" cy="313" r="0.55" fill="#222"/>
<path d="M326.04 329.38 L334.32 340.42 L345.76 333.82 L337.48 322.78 Z" fill="#fff" stroke="#2a2a2a" stroke-width="1.0" stroke-linejoin="round" />
<path d="M327.95 329.77 L334.67 338.73 L343.85 333.43 L337.13 324.47 Z" fill="none" stroke="#2a2a2a" stroke-width="0.6" stroke-linejoin="round" />
<path d="M337.37 331.9L340.12 335.45M336.91 332.71L341.62 332.64M336.07 333.09L340.93 329.43M335.16 332.91L338.32 327.05M334.54 332.22L334.79 326.4M334.43 331.3L331.68 327.75M334.89 330.49L330.18 330.56M335.73 330.11L330.87 333.77M336.64 330.29L333.48 336.15M337.26 330.98L337.01 336.8" fill="none" stroke="#2a2a2a" stroke-width="0.9"/>
<circle cx="335.9" cy="331.6" r="4.2" fill="none" stroke="#2a2a2a" stroke-width="0.8"/>
<g transform="translate(331.3 309.8) rotate(53.13)"><rect x="0" y="-2" width="38.5" height="4" rx="1.2" fill="#fff" stroke="#2a2a2a" stroke-width="0.8"/><ellipse cx="37.6" cy="0" rx="0.9" ry="2" fill="#fff" stroke="#2a2a2a" stroke-width="0.6"/></g>
<path d="M357.6 359.3 L355.4 356.7 Q355.3 350.5 362.1 346.7 L367.6 346.2 Q370.6 347.4 370.1 350 Z" fill="#fff" stroke="#2a2a2a" stroke-width="1" stroke-linejoin="round"/>
<line x1="357.6" y1="359.3" x2="370.1" y2="350" stroke="#1c1c1c" stroke-width="1.8"/>
<path d="M362.3 347L358.2 357M364.5 346.8L362.5 354.5M366.3 346.6L366.5 351.5M356.2 355.2L369.2 348.6" fill="none" stroke="#2a2a2a" stroke-width="0.95"/>
<g transform="translate(303.5 289) rotate(-36.36)"><path d="M0 0 Q11.18 -2.9 22.35 0 Q11.18 2.9 0 0Z" fill="#777" stroke="#222" stroke-width="0.7"/><path d="M1.72 -0.41L2.52 0.41M3.44 -0.76L4.24 0.76M5.16 -1.03L5.96 1.03M6.88 -1.24L7.68 1.24M8.6 -1.37L9.4 1.37M10.32 -1.44L11.12 1.44M12.04 -1.44L12.84 1.44M13.75 -1.37L14.55 1.37M15.47 -1.24L16.27 1.24M17.19 -1.03L17.99 1.03M18.91 -0.76L19.71 0.76M20.63 -0.41L21.43 0.41" stroke="#111" stroke-width="0.8" fill="none"/></g>
<g transform="translate(363.5 372.5) rotate(-35.31)"><path d="M0 0 Q11.03 -2.9 22.06 0 Q11.03 2.9 0 0Z" fill="#777" stroke="#222" stroke-width="0.7"/><path d="M1.7 -0.41L2.5 0.41M3.39 -0.76L4.19 0.76M5.09 -1.03L5.89 1.03M6.79 -1.24L7.59 1.24M8.48 -1.37L9.28 1.37M10.18 -1.44L10.98 1.44M11.88 -1.44L12.68 1.44M13.57 -1.37L14.37 1.37M15.27 -1.24L16.07 1.24M16.97 -1.03L17.77 1.03M18.66 -0.76L19.46 0.76M20.36 -0.41L21.16 0.41" stroke="#111" stroke-width="0.8" fill="none"/></g>
<path d="M320.27 354.84 L320.54 354.67 L320.8 354.49 L321.04 354.28 L320.36 352.77 L320.56 352.56 L320.74 352.33 L320.91 352.09 L322.08 353.01 L322.25 352.71 L322.4 352.39 L322.54 352.05 L321.59 350.68 L321.69 350.36 L321.78 350.03 L321.85 349.69 L323.03 350.18 L323.08 349.77 L323.12 349.35 L323.14 348.92 L322.02 347.82 L322.01 347.42 L321.99 347.02 L321.96 346.61 L323.03 346.63 L322.96 346.15 L322.88 345.67 L322.78 345.18 L321.59 344.47 L321.48 344.04 L321.36 343.6 L321.22 343.16 L322.08 342.71 L321.9 342.21 L321.7 341.71 L321.49 341.22 L320.36 340.96 L320.15 340.53 L319.93 340.1 L319.71 339.67 L320.27 338.79 L319.99 338.32 L319.7 337.86 L319.41 337.4 L319.1 336.96 L318.15 337.24 L317.87 336.86 L317.57 336.49 L317.78 335.27 L317.44 334.87 L317.08 334.49 L316.72 334.12 L316.01 334.8 L315.68 334.5 L315.35 334.21 L315.02 333.93 L314.86 332.48 L314.48 332.2 L314.09 331.93 L313.71 331.68 L313.32 332.76 L312.98 332.57 L312.64 332.4 L312.3 332.24 L311.78 330.7 L311.41 330.56 L311.03 330.44 L310.65 330.34 L310.64 331.7 L310.31 331.64 L310 331.6 L309.68 331.58 L308.86 330.11 L308.52 330.13 L308.19 330.16 L307.86 330.21 L308.21 331.72 L307.94 331.8 L307.68 331.9 L307.42 332.02 L306.37 330.76 L306.11 330.93 L305.85 331.11 L305.61 331.32 L306.29 332.83 L306.09 333.04 L305.91 333.27 L305.74 333.51 L305.58 333.77 L304.4 332.89 L304.25 333.21 L304.11 333.55 L305.05 334.92 L304.96 335.24 L304.87 335.57 L304.8 335.91 L303.62 335.42 L303.57 335.83 L303.53 336.25 L303.51 336.68 L304.63 337.78 L304.64 338.18 L304.66 338.58 L304.69 338.99 L303.62 338.97 L303.69 339.45 L303.77 339.93 L303.87 340.42 L305.06 341.13 L305.17 341.56 L305.29 342 L305.43 342.44 L304.57 342.89 L304.75 343.39 L304.95 343.89 L305.16 344.38 L306.29 344.64 L306.5 345.07 L306.72 345.5 L306.94 345.93 L306.38 346.81 L306.66 347.28 L306.95 347.74 L307.24 348.2 L308.22 347.97 L308.5 348.36 L308.78 348.74 L309.08 349.11 L308.87 350.33 L309.21 350.73 L309.57 351.11 L309.93 351.48 L310.64 350.8 L310.97 351.1 L311.3 351.39 L311.63 351.67 L311.79 353.12 L312.17 353.4 L312.56 353.67 L312.94 353.92 L313.33 352.84 L313.67 353.03 L314.01 353.2 L314.35 353.36 L314.86 354.9 L315.24 355.04 L315.62 355.16 L315.99 355.26 L316.01 353.9 L316.34 353.96 L316.65 354 L316.97 354.02 L317.79 355.49 L318.13 355.47 L318.46 355.44 L318.79 355.39 L318.44 353.88 L318.71 353.8 L318.97 353.7 L319.23 353.58 Z" fill="#fff" stroke="#2a2a2a" stroke-width="0.9" stroke-linejoin="round" />
<ellipse cx="310.9" cy="344.2" rx="7.73" ry="13.4" transform="rotate(-30 310.9 344.2)" fill="#fff" stroke="#2a2a2a" stroke-width="1.0" />
<ellipse cx="310.9" cy="344.2" rx="6.29" ry="10.91" transform="rotate(-30 310.9 344.2)" fill="none" stroke="#2a2a2a" stroke-width="1.9305555555555556" stroke-dasharray="1.3 0.8"/>
<ellipse cx="310.9" cy="344.2" rx="5.18" ry="8.98" transform="rotate(-30 310.9 344.2)" fill="#fff" stroke="#2a2a2a" stroke-width="0.9" />
<path d="M312.82 346.95L316.39 350.55M313.28 345.4L317.01 348.47M312.32 342.8L313.65 339.45M310.75 341.36L311.54 337.52M308.98 341.45L305.41 337.85M308.52 343L304.79 339.93M309.48 345.6L308.15 348.95M311.05 347.04L310.26 350.88" fill="none" stroke="#2a2a2a" stroke-width="1.3"/>
<ellipse cx="310.9" cy="344.2" rx="3.51" ry="6.08" transform="rotate(-30 310.9 344.2)" fill="none" stroke="#2a2a2a" stroke-width="0.9" />
<ellipse cx="310.9" cy="344.2" rx="2.01" ry="3.48" transform="rotate(-30 310.9 344.2)" fill="#fff" stroke="#2a2a2a" stroke-width="1.1" />
<path d="M300.35 369.75 L300.15 368.99 L299.92 368.22 L299.87 367.79 L300.02 367.67 L300.17 367.54 L300.31 367.41 L300.45 367.27 L300.58 367.13 L300.7 366.98 L300.83 366.82 L300.94 366.65 L301.06 366.48 L301.16 366.31 L301.26 366.12 L301.36 365.94 L301.8 366.11 L302.39 366.42 L302.99 366.69 L303.59 366.94 L304.19 367.16 L304.49 367.08 L304.56 366.78 L304.63 366.49 L304.69 366.18 L304.75 365.88 L304.8 365.56 L304.84 365.24 L304.87 364.92 L304.9 364.58 L304.58 364.04 L304.05 363.38 L303.52 362.75 L302.98 362.15 L302.43 361.57 L302.15 361.15 L302.13 360.87 L302.1 360.59 L302.07 360.31 L302.03 360.02 L301.99 359.73 L301.94 359.44 L301.89 359.15 L301.83 358.86 L301.76 358.56 L301.69 358.26 L301.62 357.97 L301.54 357.67 L301.8 357.4 L302.2 357.12 L302.58 356.81 L302.94 356.46 L303.28 356.08 L303.34 355.69 L303.19 355.3 L303.03 354.91 L302.87 354.53 L302.7 354.14 L302.52 353.76 L302.34 353.38 L302.15 353 L301.96 352.62 L301.51 352.37 L300.92 352.21 L300.35 352.09 L299.79 352 L299.24 351.94 L298.88 351.79 L298.71 351.52 L298.53 351.24 L298.34 350.97 L298.15 350.71 L297.96 350.44 L297.77 350.19 L297.57 349.93 L297.37 349.68 L297.16 349.43 L296.96 349.19 L296.75 348.95 L296.54 348.72 L296.47 348.17 L296.44 347.47 L296.38 346.74 L296.29 346 L296.18 345.25 L295.96 344.77 L295.67 344.52 L295.38 344.27 L295.08 344.03 L294.79 343.79 L294.49 343.57 L294.19 343.35 L293.89 343.14 L293.6 342.93 L293.28 343.12 L292.98 343.55 L292.7 344.01 L292.44 344.49 L292.22 344.99 L292 345.19 L291.77 345.08 L291.54 344.97 L291.31 344.88 L291.08 344.79 L290.85 344.7 L290.62 344.63 L290.4 344.56 L290.17 344.5 L289.95 344.44 L289.73 344.4 L289.51 344.36 L289.29 344.32 L288.93 343.81 L288.49 343.1 L288.03 342.39 L287.54 341.69 L287.04 341 L286.67 340.73 L286.41 340.75 L286.15 340.79 L285.9 340.83 L285.66 340.89 L285.41 340.95 L285.17 341.02 L284.94 341.1 L284.71 341.19 L284.71 341.71 L284.87 342.48 L285.05 343.25 L285.25 344.01 L285.48 344.78 L285.53 345.21 L285.38 345.33 L285.23 345.46 L285.09 345.59 L284.95 345.73 L284.82 345.87 L284.7 346.02 L284.57 346.18 L284.46 346.35 L284.34 346.52 L284.24 346.69 L284.14 346.88 L284.04 347.06 L283.6 346.89 L283.01 346.58 L282.41 346.31 L281.81 346.06 L281.21 345.84 L280.91 345.92 L280.84 346.22 L280.77 346.51 L280.71 346.82 L280.65 347.12 L280.6 347.44 L280.56 347.76 L280.53 348.08 L280.5 348.42 L280.82 348.96 L281.35 349.62 L281.88 350.25 L282.42 350.85 L282.97 351.43 L283.25 351.85 L283.27 352.13 L283.3 352.41 L283.33 352.69 L283.37 352.98 L283.41 353.27 L283.46 353.56 L283.51 353.85 L283.57 354.14 L283.64 354.44 L283.71 354.74 L283.78 355.03 L283.86 355.33 L283.6 355.6 L283.2 355.88 L282.82 356.19 L282.46 356.54 L282.12 356.92 L282.06 357.31 L282.21 357.7 L282.37 358.09 L282.53 358.47 L282.7 358.86 L282.88 359.24 L283.06 359.62 L283.25 360 L283.44 360.38 L283.89 360.63 L284.48 360.79 L285.05 360.91 L285.61 361 L286.16 361.06 L286.52 361.21 L286.69 361.48 L286.87 361.76 L287.06 362.03 L287.25 362.29 L287.44 362.56 L287.63 362.81 L287.83 363.07 L288.03 363.32 L288.24 363.57 L288.44 363.81 L288.65 364.05 L288.86 364.28 L288.93 364.83 L288.96 365.53 L289.02 366.26 L289.11 367 L289.22 367.75 L289.44 368.23 L289.73 368.48 L290.02 368.73 L290.32 368.97 L290.61 369.21 L290.91 369.43 L291.21 369.65 L291.51 369.86 L291.8 370.07 L292.12 369.88 L292.42 369.45 L292.7 368.99 L292.96 368.51 L293.18 368.01 L293.4 367.81 L293.63 367.92 L293.86 368.03 L294.09 368.12 L294.32 368.21 L294.55 368.3 L294.78 368.37 L295 368.44 L295.23 368.5 L295.45 368.56 L295.67 368.6 L295.89 368.64 L296.11 368.68 L296.47 369.19 L296.91 369.9 L297.37 370.61 L297.86 371.31 L298.36 372 L298.73 372.27 L298.99 372.25 L299.25 372.21 L299.5 372.17 L299.74 372.11 L299.99 372.05 L300.23 371.98 L300.46 371.9 L300.69 371.81 L300.69 371.29 L300.53 370.52 Z" fill="#fff" stroke="#2a2a2a" stroke-width="1.0" stroke-linejoin="round" />
<ellipse cx="292.7" cy="356.5" rx="6.32" ry="10.95" transform="rotate(-30 292.7 356.5)" fill="none" stroke="#303030" stroke-width="2.856" stroke-dasharray="1.29 0.94"/>
<ellipse cx="292.7" cy="356.5" rx="4.79" ry="8.3" transform="rotate(-30 292.7 356.5)" fill="#fff" stroke="#2a2a2a" stroke-width="0.8" />
<ellipse cx="275" cy="365.6" rx="7.79" ry="13.5" transform="rotate(-30 275 365.6)" fill="#fff" stroke="#2a2a2a" stroke-width="0.8" />
<ellipse cx="275" cy="365.6" rx="6.46" ry="11.2" transform="rotate(-30 275 365.6)" fill="none" stroke="#444" stroke-width="2.8" stroke-dasharray="1.12 1.18"/>
<path d="M278.95 372.44 L279.1 372.35 L279.25 372.24 L279.39 372.13 L280.26 373.05 L280.41 372.9 L280.55 372.73 L280.68 372.55 L280.8 372.36 L280.91 372.16 L280.16 371.05 L280.24 370.86 L280.31 370.66 L280.38 370.46 L280.43 370.24 L281.38 370.75 L281.42 370.49 L281.46 370.21 L281.48 369.93 L281.5 369.65 L280.58 368.83 L280.58 368.57 L280.57 368.31 L280.55 368.05 L280.52 367.78 L281.38 367.82 L281.32 367.5 L281.26 367.18 L281.18 366.85 L281.1 366.53 L280.16 366.11 L280.07 365.83 L279.98 365.55 L279.87 365.26 L279.76 364.98 L280.41 364.55 L280.26 364.22 L280.11 363.9 L279.94 363.58 L279.77 363.26 L278.95 363.32 L278.79 363.05 L278.63 362.79 L278.46 362.53 L278.28 362.28 L278.61 361.44 L278.4 361.16 L278.18 360.88 L277.95 360.61 L277.72 360.35 L277.14 360.88 L276.93 360.67 L276.72 360.46 L276.51 360.27 L276.52 359.17 L276.27 358.97 L276.02 358.77 L275.76 358.58 L275.51 358.41 L275.25 358.24 L275 359.15 L274.78 359.03 L274.56 358.92 L274.34 358.82 L273.98 357.59 L273.73 357.5 L273.48 357.42 L273.23 357.35 L272.99 357.3 L272.75 357.25 L272.86 358.41 L272.66 358.39 L272.46 358.39 L272.27 358.4 L271.6 357.23 L271.39 357.27 L271.18 357.32 L270.97 357.38 L270.77 357.45 L270.58 357.53 L271.05 358.76 L270.9 358.85 L270.75 358.96 L270.61 359.07 L269.74 358.15 L269.59 358.3 L269.45 358.47 L269.32 358.65 L269.2 358.84 L269.09 359.04 L269.84 360.15 L269.76 360.34 L269.69 360.54 L269.62 360.74 L268.68 360.19 L268.62 360.45 L268.58 360.71 L268.54 360.99 L268.52 361.27 L268.5 361.55 L269.42 362.37 L269.42 362.63 L269.43 362.89 L269.45 363.15 L268.58 363.06 L268.62 363.38 L268.68 363.7 L268.74 364.02 L268.82 364.35 L268.9 364.67 L269.84 365.09 L269.93 365.37 L270.02 365.65 L270.13 365.94 L270.24 366.22 L269.59 366.65 L269.74 366.98 L269.89 367.3 L270.06 367.62 L270.23 367.94 L271.05 367.88 L271.21 368.15 L271.37 368.41 L271.54 368.67 L271.18 369.47 L271.39 369.76 L271.6 370.04 L271.82 370.32 L272.05 370.59 L272.28 370.85 L272.51 371.1 L273.07 370.53 L273.28 370.74 L273.49 370.93 L273.7 371.12 L273.73 372.23 L273.98 372.43 L274.24 372.62 L274.49 372.79 L274.75 372.96 L275 372.05 L275.22 372.17 L275.44 372.28 L275.66 372.38 L276.02 373.61 L276.27 373.7 L276.52 373.78 L276.77 373.85 L277.01 373.9 L277.25 373.95 L277.49 373.98 L277.34 372.81 L277.54 372.81 L277.73 372.8 L278.4 373.97 L278.61 373.93 L278.82 373.88 L279.03 373.82 L279.23 373.75 L279.42 373.67 Z" fill="#fff" stroke="#2a2a2a" stroke-width="0.8" stroke-linejoin="round" />
<path d="M264.65 390.55 L264.45 389.79 L264.22 389.02 L264.17 388.59 L264.32 388.47 L264.47 388.34 L264.61 388.21 L264.75 388.07 L264.88 387.93 L265 387.78 L265.13 387.62 L265.24 387.45 L265.36 387.28 L265.46 387.11 L265.56 386.92 L265.66 386.74 L266.1 386.91 L266.69 387.22 L267.29 387.49 L267.89 387.74 L268.49 387.96 L268.79 387.88 L268.86 387.58 L268.93 387.29 L268.99 386.98 L269.05 386.68 L269.1 386.36 L269.14 386.04 L269.17 385.72 L269.2 385.38 L268.88 384.84 L268.35 384.18 L267.82 383.55 L267.28 382.95 L266.73 382.37 L266.45 381.95 L266.43 381.67 L266.4 381.39 L266.37 381.11 L266.33 380.82 L266.29 380.53 L266.24 380.24 L266.19 379.95 L266.13 379.66 L266.06 379.36 L265.99 379.06 L265.92 378.77 L265.84 378.47 L266.1 378.2 L266.5 377.92 L266.88 377.61 L267.24 377.26 L267.58 376.88 L267.64 376.49 L267.49 376.1 L267.33 375.71 L267.17 375.33 L267 374.94 L266.82 374.56 L266.64 374.18 L266.45 373.8 L266.26 373.42 L265.81 373.17 L265.22 373.01 L264.65 372.89 L264.09 372.8 L263.54 372.74 L263.18 372.59 L263.01 372.32 L262.83 372.04 L262.64 371.77 L262.45 371.51 L262.26 371.24 L262.07 370.99 L261.87 370.73 L261.67 370.48 L261.46 370.23 L261.26 369.99 L261.05 369.75 L260.84 369.52 L260.77 368.97 L260.74 368.27 L260.68 367.54 L260.59 366.8 L260.48 366.05 L260.26 365.57 L259.97 365.32 L259.68 365.07 L259.38 364.83 L259.09 364.59 L258.79 364.37 L258.49 364.15 L258.19 363.94 L257.9 363.73 L257.58 363.92 L257.28 364.35 L257 364.81 L256.74 365.29 L256.52 365.79 L256.3 365.99 L256.07 365.88 L255.84 365.77 L255.61 365.68 L255.38 365.59 L255.15 365.5 L254.92 365.43 L254.7 365.36 L254.47 365.3 L254.25 365.24 L254.03 365.2 L253.81 365.16 L253.59 365.12 L253.23 364.61 L252.79 363.9 L252.33 363.19 L251.84 362.49 L251.34 361.8 L250.97 361.53 L250.71 361.55 L250.45 361.59 L250.2 361.63 L249.96 361.69 L249.71 361.75 L249.47 361.82 L249.24 361.9 L249.01 361.99 L249.01 362.51 L249.17 363.28 L249.35 364.05 L249.55 364.81 L249.78 365.58 L249.83 366.01 L249.68 366.13 L249.53 366.26 L249.39 366.39 L249.25 366.53 L249.12 366.67 L249 366.82 L248.87 366.98 L248.76 367.15 L248.64 367.32 L248.54 367.49 L248.44 367.68 L248.34 367.86 L247.9 367.69 L247.31 367.38 L246.71 367.11 L246.11 366.86 L245.51 366.64 L245.21 366.72 L245.14 367.02 L245.07 367.31 L245.01 367.62 L244.95 367.92 L244.9 368.24 L244.86 368.56 L244.83 368.88 L244.8 369.22 L245.12 369.76 L245.65 370.42 L246.18 371.05 L246.72 371.65 L247.27 372.23 L247.55 372.65 L247.57 372.93 L247.6 373.21 L247.63 373.49 L247.67 373.78 L247.71 374.07 L247.76 374.36 L247.81 374.65 L247.87 374.94 L247.94 375.24 L248.01 375.54 L248.08 375.83 L248.16 376.13 L247.9 376.4 L247.5 376.68 L247.12 376.99 L246.76 377.34 L246.42 377.72 L246.36 378.11 L246.51 378.5 L246.67 378.89 L246.83 379.27 L247 379.66 L247.18 380.04 L247.36 380.42 L247.55 380.8 L247.74 381.18 L248.19 381.43 L248.78 381.59 L249.35 381.71 L249.91 381.8 L250.46 381.86 L250.82 382.01 L250.99 382.28 L251.17 382.56 L251.36 382.83 L251.55 383.09 L251.74 383.36 L251.93 383.61 L252.13 383.87 L252.33 384.12 L252.54 384.37 L252.74 384.61 L252.95 384.85 L253.16 385.08 L253.23 385.63 L253.26 386.33 L253.32 387.06 L253.41 387.8 L253.52 388.55 L253.74 389.03 L254.03 389.28 L254.32 389.53 L254.62 389.77 L254.91 390.01 L255.21 390.23 L255.51 390.45 L255.81 390.66 L256.1 390.87 L256.42 390.68 L256.72 390.25 L257 389.79 L257.26 389.31 L257.48 388.81 L257.7 388.61 L257.93 388.72 L258.16 388.83 L258.39 388.92 L258.62 389.01 L258.85 389.1 L259.08 389.17 L259.3 389.24 L259.53 389.3 L259.75 389.36 L259.97 389.4 L260.19 389.44 L260.41 389.48 L260.77 389.99 L261.21 390.7 L261.67 391.41 L262.16 392.11 L262.66 392.8 L263.03 393.07 L263.29 393.05 L263.55 393.01 L263.8 392.97 L264.04 392.91 L264.29 392.85 L264.53 392.78 L264.76 392.7 L264.99 392.61 L264.99 392.09 L264.83 391.32 Z" fill="#fff" stroke="#2a2a2a" stroke-width="1.0" stroke-linejoin="round" />
<ellipse cx="257" cy="377.3" rx="6.32" ry="10.95" transform="rotate(-30 257 377.3)" fill="none" stroke="#303030" stroke-width="2.856" stroke-dasharray="1.29 0.94"/>
<ellipse cx="257" cy="377.3" rx="4.79" ry="8.3" transform="rotate(-30 257 377.3)" fill="#fff" stroke="#2a2a2a" stroke-width="0.8" />
<ellipse cx="238.75" cy="385.8" rx="5.42" ry="9.4" transform="rotate(-30 238.75 385.8)" fill="#fff" stroke="#2a2a2a" stroke-width="0.9" />
<ellipse cx="238.75" cy="385.8" rx="2.77" ry="4.8" transform="rotate(-30 238.75 385.8)" fill="#fff" stroke="#2a2a2a" stroke-width="0.9" />
<ellipse cx="225" cy="393.7" rx="6.06" ry="10.5" transform="rotate(-30 225 393.7)" fill="#fff" stroke="#2a2a2a" stroke-width="0.9" />
<ellipse cx="225" cy="393.7" rx="3.12" ry="5.4" transform="rotate(-30 225 393.7)" fill="#fff" stroke="#2a2a2a" stroke-width="0.9" />
<ellipse cx="211.3" cy="401.3" rx="3.92" ry="6.8" transform="rotate(-30 211.3 401.3)" fill="#fff" stroke="#2a2a2a" stroke-width="0.9" />
<ellipse cx="211.3" cy="401.3" rx="2.54" ry="4.4" transform="rotate(-30 211.3 401.3)" fill="#fff" stroke="#2a2a2a" stroke-width="0.9" />
<ellipse cx="190.6" cy="411.5" rx="10.96" ry="19" transform="rotate(-30 190.6 411.5)" fill="#fff" stroke="#2a2a2a" stroke-width="0.9" />
<path d="M180 441.99 L200.1 427.95 L181.1 395.05 L159 405.61 Z" fill="#fff" stroke="none" stroke-width="0" stroke-linejoin="round" />
<path d="M159 405.61 L158.21 406.14 L157.49 406.79 L156.84 407.53 L156.27 408.38 L155.78 409.32 L155.38 410.35 L155.06 411.46 L154.84 412.65 L154.7 413.91 L154.66 415.22 L154.7 416.6 L154.84 418.01 L155.07 419.46 L155.38 420.94 L155.79 422.44 L156.28 423.94 L156.85 425.45 L157.49 426.94 L158.21 428.41 L159.01 429.86 L159.86 431.27 L160.78 432.63 L161.75 433.94 L162.76 435.18 L163.82 436.36 L164.92 437.45 L166.04 438.47 L167.18 439.39 L168.34 440.22 L169.5 440.94 L170.67 441.56 L171.83 442.07 L172.97 442.47 L174.09 442.75 L175.18 442.92 L176.24 442.97 L177.26 442.9 L178.23 442.71 L179.14 442.41 L180 441.99" fill="#fff" stroke="#2a2a2a" stroke-width="1.1" stroke-linejoin="round" />
<path d="M159.26 406.13 L158.62 406.86 L158.06 407.7 L157.58 408.62 L157.18 409.64 L156.87 410.74 L156.65 411.91 L156.51 413.15 L156.47 414.45 L156.51 415.8 L156.65 417.19 L156.87 418.63 L157.18 420.08 L157.58 421.56 L158.06 423.04 L158.63 424.52 L159.26 425.99 L159.98 427.45 L160.76 428.87 L161.6 430.26 L162.5 431.6 L163.46 432.89 L164.46 434.12 L165.5 435.28 L166.58 436.36 L167.69 437.36 L168.82 438.27 L169.96 439.08 L171.1 439.8 L172.25 440.41 L173.39 440.91 L174.52 441.31 L175.63 441.58 L176.7 441.75 L177.75 441.79 L178.75 441.73 L179.7 441.54" fill="none" stroke="#2a2a2a" stroke-width="0.7" stroke-linejoin="round" />
<line x1="160.07" y1="405.11" x2="182.07" y2="394.59" stroke="#1c1c1c" stroke-width="1.4"/>
<line x1="162.7" y1="404.63" x2="184.45" y2="394.16" stroke="#1c1c1c" stroke-width="1.8"/>
<line x1="167.16" y1="405.52" x2="188.48" y2="394.96" stroke="#1c1c1c" stroke-width="0.7"/>
<line x1="167" y1="407.92" x2="190.46" y2="395.91" stroke="#1c1c1c" stroke-width="0.7"/>
<line x1="169.4" y1="408.85" x2="192.18" y2="397.01" stroke="#1c1c1c" stroke-width="0.7"/>
<line x1="176.48" y1="414.92" x2="198" y2="402.84" stroke="#1c1c1c" stroke-width="1.5"/>
<line x1="177.67" y1="416.54" x2="199.05" y2="404.32" stroke="#1c1c1c" stroke-width="1.7"/>
<line x1="178.74" y1="418.24" x2="200" y2="405.86" stroke="#1c1c1c" stroke-width="0.9"/>
<line x1="179.69" y1="419.99" x2="200.87" y2="407.45" stroke="#1c1c1c" stroke-width="0.7"/>
<line x1="182.42" y1="430.77" x2="203.88" y2="416.89" stroke="#1c1c1c" stroke-width="0.7"/>
<line x1="182.07" y1="433.63" x2="204.03" y2="419.21" stroke="#1c1c1c" stroke-width="1.3"/>
<line x1="184.12" y1="435.22" x2="203.83" y2="421.83" stroke="#1c1c1c" stroke-width="1.7"/>
<line x1="183.07" y1="438.6" x2="202.88" y2="424.89" stroke="#1c1c1c" stroke-width="1.9"/>
<line x1="180.97" y1="441.31" x2="200.98" y2="427.34" stroke="#1c1c1c" stroke-width="1.2"/>
<path d="M177.83 413.22 L182.59 410.47 L183.49 412.03 L178.73 414.78 Z" fill="#333" stroke="#2a2a2a" stroke-width="0.5" stroke-linejoin="round" />
<ellipse cx="169.2" cy="424.2" rx="9.98" ry="17.3" transform="rotate(-30 169.2 424.2)" fill="#fff" stroke="#2a2a2a" stroke-width="1.0" />
<ellipse cx="168.7" cy="425.5" rx="7.27" ry="12.6" transform="rotate(-30 168.7 425.5)" fill="#fff" stroke="#2a2a2a" stroke-width="1.4" />
<ellipse cx="169.1" cy="425.3" rx="6.29" ry="10.9" transform="rotate(-30 169.1 425.3)" fill="none" stroke="#2a2a2a" stroke-width="0.6" />
<ellipse cx="169.9" cy="424.8" rx="5.08" ry="8.8" transform="rotate(-30 169.9 424.8)" fill="#fff" stroke="#2a2a2a" stroke-width="0.9" />
<ellipse cx="170.3" cy="424.6" rx="3.98" ry="6.9" transform="rotate(-30 170.3 424.6)" fill="none" stroke="#2a2a2a" stroke-width="0.6" />
<ellipse cx="167.53" cy="427.3" rx="2.48" ry="4.3" transform="rotate(-30 167.53 427.3)" fill="#fff" stroke="#2a2a2a" stroke-width="0.8" />
<path d="M165.35 433.52 L169.68 431.02 L165.38 423.58 L161.05 426.08 Z" fill="#fff" stroke="none" stroke-width="0" stroke-linejoin="round" />
<line x1="165.35" y1="433.52" x2="169.68" y2="431.02" stroke="#2a2a2a" stroke-width="0.8"/>
<line x1="161.05" y1="426.08" x2="165.38" y2="423.58" stroke="#2a2a2a" stroke-width="0.8"/>
<ellipse cx="163.2" cy="429.8" rx="2.48" ry="4.3" transform="rotate(-30 163.2 429.8)" fill="#fff" stroke="#2a2a2a" stroke-width="0.8" />
<ellipse cx="149.34" cy="436.7" rx="6.92" ry="12" transform="rotate(-30 149.34 436.7)" fill="#fff" stroke="#2a2a2a" stroke-width="0.8" />
<path d="M149.8 450.29 L155.34 447.09 L143.34 426.31 L137.8 429.51 Z" fill="#fff" stroke="none" stroke-width="0" stroke-linejoin="round" />
<line x1="149.8" y1="450.29" x2="155.34" y2="447.09" stroke="#2a2a2a" stroke-width="0.8"/>
<line x1="137.8" y1="429.51" x2="143.34" y2="426.31" stroke="#2a2a2a" stroke-width="0.8"/>
<ellipse cx="143.8" cy="439.9" rx="6.92" ry="12" transform="rotate(-30 143.8 439.9)" fill="#fff" stroke="#2a2a2a" stroke-width="0.8" />
<ellipse cx="144.1" cy="439.7" rx="6.12" ry="10.6" transform="rotate(-30 144.1 439.7)" fill="none" stroke="#2a2a2a" stroke-width="0.6" />
<ellipse cx="144.1" cy="439.7" rx="4.44" ry="7.7" transform="rotate(-30 144.1 439.7)" fill="#fff" stroke="#2a2a2a" stroke-width="1.5" />
<ellipse cx="144.6" cy="439.45" rx="3.06" ry="5.3" transform="rotate(-30 144.6 439.45)" fill="#fff" stroke="#2a2a2a" stroke-width="1.0" />
<ellipse cx="130.28" cy="448.79" rx="2.65" ry="4.6" transform="rotate(-30 130.28 448.79)" fill="#fff" stroke="#2a2a2a" stroke-width="0.8" />
<path d="M120.8 459.57 L132.58 452.77 L127.98 444.8 L116.2 451.6 Z" fill="#fff" stroke="none" stroke-width="0" stroke-linejoin="round" />
<line x1="120.8" y1="459.57" x2="132.58" y2="452.77" stroke="#2a2a2a" stroke-width="0.8"/>
<line x1="116.2" y1="451.6" x2="127.98" y2="444.8" stroke="#2a2a2a" stroke-width="0.8"/>
<ellipse cx="130.6" cy="448.6" rx="2.65" ry="4.6" transform="rotate(-30 130.6 448.6)" fill="#fff" stroke="#2a2a2a" stroke-width="0.9" />
<ellipse cx="130.2" cy="448.8" rx="1.38" ry="2.4" transform="rotate(-30 130.2 448.8)" fill="#fff" stroke="#2a2a2a" stroke-width="0.6" />
<ellipse cx="121.8" cy="453.68" rx="2.77" ry="4.8" transform="rotate(-30 121.8 453.68)" fill="none" stroke="#2a2a2a" stroke-width="0.8" />
<ellipse cx="124.2" cy="452.3" rx="2.77" ry="4.8" transform="rotate(-30 124.2 452.3)" fill="none" stroke="#2a2a2a" stroke-width="0.8" />
<ellipse cx="126.6" cy="450.91" rx="2.77" ry="4.8" transform="rotate(-30 126.6 450.91)" fill="none" stroke="#2a2a2a" stroke-width="0.8" />
<ellipse cx="117.73" cy="455.6" rx="3.64" ry="6.3" transform="rotate(-30 117.73 455.6)" fill="#fff" stroke="#2a2a2a" stroke-width="0.8" />
<path d="M119.15 462.06 L120.88 461.06 L114.58 450.14 L112.85 451.14 Z" fill="#fff" stroke="none" stroke-width="0" stroke-linejoin="round" />
<line x1="119.15" y1="462.06" x2="120.88" y2="461.06" stroke="#2a2a2a" stroke-width="0.8"/>
<line x1="112.85" y1="451.14" x2="114.58" y2="450.14" stroke="#2a2a2a" stroke-width="0.8"/>
<ellipse cx="116" cy="456.6" rx="3.64" ry="6.3" transform="rotate(-30 116 456.6)" fill="#fff" stroke="#2a2a2a" stroke-width="0.8" />
<path d="M94.5 459 L106.25 452.8 A4.9 8.5 -30 0 1 114.75 467.6 L98.7 476.5 L95.2 474.4 L96.2 470.6 L91.8 471.3 L89.6 465.3 Z" fill="#fff" stroke="#2a2a2a" stroke-width="0.9" stroke-linejoin="round"/>
<path d="M94.5 459 L96.9 462.2 L110.6 454.6 M96.9 462.2 L96 466 L101.5 467.4 L112.3 461.3 M101.5 467.4 L102.6 469.6 L100.8 471 L95.2 474.4 M102.6 469.6 L113.5 463.8 M96 466 L91.8 471.3" fill="none" stroke="#2a2a2a" stroke-width="0.8" stroke-linejoin="round"/>
<path d="M575.43 413.52 L575.22 412.77 L575 412.04 L574.95 411.61 L575.09 411.5 L575.22 411.38 L575.36 411.26 L575.48 411.13 L575.61 410.99 L575.73 410.85 L575.84 410.7 L575.95 410.55 L576.06 410.39 L576.16 410.22 L576.25 410.05 L576.34 409.87 L576.77 410.05 L577.34 410.35 L577.92 410.63 L578.5 410.88 L579.08 411.1 L579.37 411.03 L579.45 410.75 L579.51 410.47 L579.57 410.18 L579.62 409.89 L579.67 409.59 L579.71 409.29 L579.74 408.98 L579.76 408.66 L579.45 408.14 L578.94 407.51 L578.42 406.9 L577.89 406.32 L577.36 405.77 L577.08 405.37 L577.06 405.11 L577.04 404.85 L577.01 404.58 L576.98 404.31 L576.94 404.04 L576.89 403.77 L576.84 403.49 L576.78 403.22 L576.72 402.94 L576.66 402.66 L576.59 402.38 L576.51 402.1 L576.77 401.85 L577.16 401.59 L577.53 401.29 L577.89 400.96 L578.23 400.6 L578.29 400.23 L578.14 399.86 L577.99 399.5 L577.84 399.13 L577.68 398.77 L577.51 398.4 L577.34 398.04 L577.16 397.68 L576.98 397.33 L576.55 397.08 L575.98 396.94 L575.42 396.83 L574.88 396.75 L574.35 396.71 L574.02 396.57 L573.85 396.31 L573.68 396.06 L573.5 395.8 L573.33 395.55 L573.15 395.31 L572.96 395.06 L572.78 394.82 L572.59 394.59 L572.4 394.35 L572.2 394.13 L572.01 393.9 L571.81 393.68 L571.75 393.15 L571.72 392.48 L571.68 391.78 L571.6 391.07 L571.5 390.34 L571.29 389.88 L571.01 389.64 L570.74 389.4 L570.46 389.18 L570.18 388.95 L569.9 388.74 L569.62 388.53 L569.33 388.33 L569.05 388.14 L568.75 388.32 L568.46 388.75 L568.2 389.2 L567.96 389.67 L567.75 390.16 L567.54 390.36 L567.32 390.26 L567.11 390.16 L566.89 390.07 L566.67 389.99 L566.46 389.91 L566.25 389.84 L566.03 389.77 L565.82 389.71 L565.61 389.66 L565.4 389.62 L565.2 389.58 L564.99 389.55 L564.65 389.05 L564.23 388.36 L563.78 387.67 L563.32 386.99 L562.84 386.32 L562.48 386.05 L562.24 386.07 L561.99 386.11 L561.76 386.15 L561.52 386.2 L561.29 386.26 L561.06 386.32 L560.84 386.4 L560.63 386.49 L560.63 386.99 L560.79 387.74 L560.97 388.48 L561.18 389.23 L561.4 389.96 L561.45 390.39 L561.31 390.5 L561.18 390.62 L561.04 390.74 L560.92 390.87 L560.79 391.01 L560.67 391.15 L560.56 391.3 L560.45 391.45 L560.34 391.61 L560.24 391.78 L560.15 391.95 L560.06 392.13 L559.63 391.95 L559.06 391.65 L558.48 391.37 L557.9 391.12 L557.32 390.9 L557.03 390.97 L556.95 391.25 L556.89 391.53 L556.83 391.82 L556.78 392.11 L556.73 392.41 L556.69 392.71 L556.66 393.02 L556.64 393.34 L556.95 393.86 L557.46 394.49 L557.98 395.1 L558.51 395.68 L559.04 396.23 L559.32 396.63 L559.34 396.89 L559.36 397.15 L559.39 397.42 L559.42 397.69 L559.46 397.96 L559.51 398.23 L559.56 398.51 L559.62 398.78 L559.68 399.06 L559.74 399.34 L559.81 399.62 L559.89 399.9 L559.63 400.15 L559.24 400.41 L558.87 400.71 L558.51 401.04 L558.17 401.4 L558.11 401.77 L558.26 402.14 L558.41 402.5 L558.56 402.87 L558.72 403.23 L558.89 403.6 L559.06 403.96 L559.24 404.32 L559.42 404.67 L559.85 404.92 L560.42 405.06 L560.98 405.17 L561.52 405.25 L562.05 405.29 L562.38 405.43 L562.55 405.69 L562.72 405.94 L562.9 406.2 L563.07 406.45 L563.25 406.69 L563.44 406.94 L563.62 407.18 L563.81 407.41 L564 407.65 L564.2 407.87 L564.39 408.1 L564.59 408.32 L564.65 408.85 L564.68 409.52 L564.72 410.22 L564.8 410.93 L564.9 411.66 L565.11 412.12 L565.39 412.36 L565.66 412.6 L565.94 412.82 L566.22 413.05 L566.5 413.26 L566.78 413.47 L567.07 413.67 L567.35 413.86 L567.65 413.68 L567.94 413.25 L568.2 412.8 L568.44 412.33 L568.65 411.84 L568.86 411.64 L569.08 411.74 L569.29 411.84 L569.51 411.93 L569.73 412.01 L569.94 412.09 L570.15 412.16 L570.37 412.23 L570.58 412.29 L570.79 412.34 L571 412.38 L571.2 412.42 L571.41 412.45 L571.75 412.95 L572.17 413.64 L572.62 414.33 L573.08 415.01 L573.56 415.68 L573.92 415.95 L574.16 415.93 L574.41 415.89 L574.64 415.85 L574.88 415.8 L575.11 415.74 L575.34 415.68 L575.56 415.6 L575.77 415.51 L575.77 415.01 L575.61 414.26 Z" fill="#fff" stroke="#2a2a2a" stroke-width="1.0" stroke-linejoin="round" />
<ellipse cx="568.2" cy="401" rx="6" ry="10.4" transform="rotate(-30 568.2 401)" fill="none" stroke="#303030" stroke-width="2.576" stroke-dasharray="1.16 0.85"/>
<ellipse cx="568.2" cy="401" rx="4.62" ry="8" transform="rotate(-30 568.2 401)" fill="#fff" stroke="#2a2a2a" stroke-width="0.8" />
<ellipse cx="588" cy="389.9" rx="7.27" ry="12.6" transform="rotate(-30 588 389.9)" fill="#fff" stroke="#2a2a2a" stroke-width="0.8" />
<ellipse cx="588" cy="389.9" rx="6.06" ry="10.5" transform="rotate(-30 588 389.9)" fill="none" stroke="#444" stroke-width="2.5999999999999996" stroke-dasharray="1.04 1.09"/>
<path d="M591.7 396.31 L591.86 396.21 L592.02 396.09 L592.16 395.96 L592.3 395.82 L593.21 396.69 L593.35 396.5 L593.48 396.29 L593.6 396.07 L593.71 395.84 L592.94 394.75 L593.01 394.53 L593.07 394.31 L593.13 394.07 L594.07 394.52 L594.11 394.23 L594.14 393.92 L594.15 393.61 L594.15 393.29 L594.14 392.97 L593.2 392.23 L593.17 391.94 L593.12 391.65 L593.07 391.35 L593.01 391.06 L593.8 390.91 L593.71 390.55 L593.6 390.2 L593.48 389.84 L593.35 389.48 L592.43 389.24 L592.3 388.94 L592.16 388.64 L592.01 388.35 L591.86 388.05 L592.35 387.39 L592.15 387.05 L591.94 386.72 L591.72 386.4 L591.5 386.09 L590.78 386.39 L590.58 386.14 L590.37 385.89 L590.16 385.65 L589.95 385.42 L590.03 384.37 L589.77 384.12 L589.5 383.88 L589.23 383.65 L588.96 383.44 L588.58 384.24 L588.35 384.08 L588.12 383.93 L587.88 383.79 L587.58 382.57 L587.31 382.44 L587.04 382.33 L586.76 382.23 L586.5 382.14 L586.23 382.08 L586.27 383.2 L586.05 383.17 L585.84 383.15 L585.62 383.15 L585.42 383.15 L584.73 382 L584.5 382.04 L584.27 382.1 L584.06 382.17 L583.85 382.26 L584.3 383.49 L584.14 383.59 L583.98 383.71 L583.84 383.84 L582.94 382.93 L582.79 383.11 L582.65 383.3 L582.52 383.51 L582.4 383.73 L582.29 383.96 L583.06 385.05 L582.99 385.27 L582.93 385.49 L582.87 385.73 L581.93 385.28 L581.89 385.57 L581.86 385.88 L581.85 386.19 L581.85 386.51 L581.86 386.83 L582.8 387.57 L582.83 387.86 L582.88 388.15 L582.93 388.45 L582.99 388.74 L582.2 388.89 L582.29 389.25 L582.4 389.6 L582.52 389.96 L582.65 390.32 L583.57 390.56 L583.7 390.86 L583.84 391.16 L583.99 391.45 L583.46 392.07 L583.65 392.41 L583.85 392.75 L584.06 393.08 L584.28 393.4 L584.5 393.71 L585.22 393.41 L585.42 393.66 L585.63 393.91 L585.84 394.15 L585.71 395.17 L585.97 395.43 L586.23 395.68 L586.5 395.92 L586.77 396.15 L587.04 396.36 L587.42 395.56 L587.65 395.72 L587.88 395.87 L588.12 396.01 L588.35 396.13 L588.69 397.36 L588.96 397.47 L589.24 397.57 L589.5 397.66 L589.77 397.72 L589.73 396.6 L589.95 396.63 L590.16 396.65 L590.38 396.65 L591.04 397.83 L591.27 397.8 L591.5 397.76 L591.73 397.7 L591.94 397.63 L592.15 397.54 Z" fill="#fff" stroke="#2a2a2a" stroke-width="0.8" stroke-linejoin="round" />
<path d="M612.43 392.12 L612.22 391.37 L612 390.64 L611.95 390.21 L612.09 390.1 L612.22 389.98 L612.36 389.86 L612.48 389.73 L612.61 389.59 L612.73 389.45 L612.84 389.3 L612.95 389.15 L613.06 388.99 L613.16 388.82 L613.25 388.65 L613.34 388.47 L613.77 388.65 L614.34 388.95 L614.92 389.23 L615.5 389.48 L616.08 389.7 L616.37 389.63 L616.45 389.35 L616.51 389.07 L616.57 388.78 L616.62 388.49 L616.67 388.19 L616.71 387.89 L616.74 387.58 L616.76 387.26 L616.45 386.74 L615.94 386.11 L615.42 385.5 L614.89 384.92 L614.36 384.37 L614.08 383.97 L614.06 383.71 L614.04 383.45 L614.01 383.18 L613.98 382.91 L613.94 382.64 L613.89 382.37 L613.84 382.09 L613.78 381.82 L613.72 381.54 L613.66 381.26 L613.59 380.98 L613.51 380.7 L613.77 380.45 L614.16 380.19 L614.53 379.89 L614.89 379.56 L615.23 379.2 L615.29 378.83 L615.14 378.46 L614.99 378.1 L614.84 377.73 L614.68 377.37 L614.51 377 L614.34 376.64 L614.16 376.28 L613.98 375.93 L613.55 375.68 L612.98 375.54 L612.42 375.43 L611.88 375.35 L611.35 375.31 L611.02 375.17 L610.85 374.91 L610.68 374.66 L610.5 374.4 L610.33 374.15 L610.15 373.91 L609.96 373.66 L609.78 373.42 L609.59 373.19 L609.4 372.95 L609.2 372.73 L609.01 372.5 L608.81 372.28 L608.75 371.75 L608.72 371.08 L608.68 370.38 L608.6 369.67 L608.5 368.94 L608.29 368.48 L608.01 368.24 L607.74 368 L607.46 367.78 L607.18 367.55 L606.9 367.34 L606.62 367.13 L606.33 366.93 L606.05 366.74 L605.75 366.92 L605.46 367.35 L605.2 367.8 L604.96 368.27 L604.75 368.76 L604.54 368.96 L604.32 368.86 L604.11 368.76 L603.89 368.67 L603.67 368.59 L603.46 368.51 L603.25 368.44 L603.03 368.37 L602.82 368.31 L602.61 368.26 L602.4 368.22 L602.2 368.18 L601.99 368.15 L601.65 367.65 L601.23 366.96 L600.78 366.27 L600.32 365.59 L599.84 364.92 L599.48 364.65 L599.24 364.67 L598.99 364.71 L598.76 364.75 L598.52 364.8 L598.29 364.86 L598.06 364.92 L597.84 365 L597.63 365.09 L597.63 365.59 L597.79 366.34 L597.97 367.08 L598.18 367.83 L598.4 368.56 L598.45 368.99 L598.31 369.1 L598.18 369.22 L598.04 369.34 L597.92 369.47 L597.79 369.61 L597.67 369.75 L597.56 369.9 L597.45 370.05 L597.34 370.21 L597.24 370.38 L597.15 370.55 L597.06 370.73 L596.63 370.55 L596.06 370.25 L595.48 369.97 L594.9 369.72 L594.32 369.5 L594.03 369.57 L593.95 369.85 L593.89 370.13 L593.83 370.42 L593.78 370.71 L593.73 371.01 L593.69 371.31 L593.66 371.62 L593.64 371.94 L593.95 372.46 L594.46 373.09 L594.98 373.7 L595.51 374.28 L596.04 374.83 L596.32 375.23 L596.34 375.49 L596.36 375.75 L596.39 376.02 L596.42 376.29 L596.46 376.56 L596.51 376.83 L596.56 377.11 L596.62 377.38 L596.68 377.66 L596.74 377.94 L596.81 378.22 L596.89 378.5 L596.63 378.75 L596.24 379.01 L595.87 379.31 L595.51 379.64 L595.17 380 L595.11 380.37 L595.26 380.74 L595.41 381.1 L595.56 381.47 L595.72 381.83 L595.89 382.2 L596.06 382.56 L596.24 382.92 L596.42 383.27 L596.85 383.52 L597.42 383.66 L597.98 383.77 L598.52 383.85 L599.05 383.89 L599.38 384.03 L599.55 384.29 L599.72 384.54 L599.9 384.8 L600.07 385.05 L600.25 385.29 L600.44 385.54 L600.62 385.78 L600.81 386.01 L601 386.25 L601.2 386.47 L601.39 386.7 L601.59 386.92 L601.65 387.45 L601.68 388.12 L601.72 388.82 L601.8 389.53 L601.9 390.26 L602.11 390.72 L602.39 390.96 L602.66 391.2 L602.94 391.42 L603.22 391.65 L603.5 391.86 L603.78 392.07 L604.07 392.27 L604.35 392.46 L604.65 392.28 L604.94 391.85 L605.2 391.4 L605.44 390.93 L605.65 390.44 L605.86 390.24 L606.08 390.34 L606.29 390.44 L606.51 390.53 L606.73 390.61 L606.94 390.69 L607.15 390.76 L607.37 390.83 L607.58 390.89 L607.79 390.94 L608 390.98 L608.2 391.02 L608.41 391.05 L608.75 391.55 L609.17 392.24 L609.62 392.93 L610.08 393.61 L610.56 394.28 L610.92 394.55 L611.16 394.53 L611.41 394.49 L611.64 394.45 L611.88 394.4 L612.11 394.34 L612.34 394.28 L612.56 394.2 L612.77 394.11 L612.77 393.61 L612.61 392.86 Z" fill="#fff" stroke="#2a2a2a" stroke-width="1.0" stroke-linejoin="round" />
<ellipse cx="605.2" cy="379.6" rx="6" ry="10.4" transform="rotate(-30 605.2 379.6)" fill="none" stroke="#303030" stroke-width="2.576" stroke-dasharray="1.16 0.85"/>
<ellipse cx="605.2" cy="379.6" rx="4.62" ry="8" transform="rotate(-30 605.2 379.6)" fill="#fff" stroke="#2a2a2a" stroke-width="0.8" />
<path d="M634.25 378.06 L634.53 377.88 L634.79 377.69 L635.04 377.47 L634.35 375.95 L634.55 375.73 L634.73 375.49 L634.9 375.23 L636.08 376.1 L636.24 375.77 L636.39 375.42 L636.52 375.05 L635.54 373.71 L635.62 373.36 L635.69 373 L635.74 372.63 L636.91 373.01 L636.93 372.57 L636.94 372.11 L636.93 371.64 L635.78 370.63 L635.74 370.2 L635.69 369.77 L635.62 369.33 L636.63 369.18 L636.52 368.67 L636.39 368.16 L636.24 367.64 L635.05 367.09 L634.9 366.63 L634.73 366.18 L634.55 365.73 L635.28 365.06 L635.04 364.55 L634.79 364.04 L634.53 363.54 L633.45 363.51 L633.19 363.08 L632.93 362.66 L632.66 362.25 L633.02 361.15 L632.69 360.7 L632.34 360.26 L631.99 359.84 L631.63 359.43 L630.83 359.98 L630.51 359.65 L630.17 359.32 L630.13 357.92 L629.74 357.59 L629.34 357.27 L628.95 356.97 L628.45 357.93 L628.1 357.71 L627.75 357.49 L627.4 357.3 L626.95 355.76 L626.55 355.59 L626.15 355.43 L625.76 355.29 L625.37 355.17 L625.33 356.52 L624.99 356.46 L624.67 356.42 L623.87 354.94 L623.51 354.93 L623.15 354.95 L622.81 355 L623.13 356.51 L622.84 356.58 L622.57 356.68 L622.31 356.79 L621.25 355.54 L620.97 355.72 L620.71 355.91 L620.46 356.13 L621.15 357.65 L620.95 357.87 L620.77 358.11 L620.6 358.37 L619.42 357.5 L619.26 357.83 L619.12 358.18 L618.99 358.55 L619.97 359.89 L619.88 360.24 L619.82 360.6 L619.76 360.97 L619.72 361.35 L618.57 361.03 L618.56 361.49 L618.57 361.96 L619.72 362.97 L619.76 363.4 L619.82 363.83 L619.88 364.27 L618.88 364.42 L618.99 364.93 L619.12 365.44 L619.26 365.96 L620.45 366.51 L620.6 366.97 L620.77 367.42 L620.96 367.87 L620.23 368.54 L620.46 369.05 L620.71 369.56 L620.98 370.06 L622.06 370.09 L622.31 370.52 L622.57 370.94 L622.85 371.35 L622.48 372.45 L622.82 372.9 L623.16 373.34 L623.51 373.76 L624.35 373.27 L624.67 373.62 L625 373.95 L625.33 374.28 L625.67 374.58 L625.77 376.01 L626.16 376.33 L626.55 376.63 L627.05 375.67 L627.4 375.89 L627.75 376.11 L628.11 376.3 L628.56 377.84 L628.95 378.01 L629.35 378.17 L629.74 378.31 L629.84 376.99 L630.18 377.08 L630.51 377.14 L630.84 377.18 L631.64 378.66 L632 378.67 L632.35 378.65 L632.69 378.6 L632.38 377.09 L632.66 377.02 L632.93 376.92 L633.2 376.81 Z" fill="#fff" stroke="#2a2a2a" stroke-width="0.9" stroke-linejoin="round" />
<ellipse cx="625.5" cy="368.1" rx="7.21" ry="12.5" transform="rotate(-30 625.5 368.1)" fill="#fff" stroke="#2a2a2a" stroke-width="1.0" />
<ellipse cx="625.5" cy="368.1" rx="5.89" ry="10.2" transform="rotate(-30 625.5 368.1)" fill="none" stroke="#2a2a2a" stroke-width="1.8055555555555556" stroke-dasharray="1.3 0.8"/>
<ellipse cx="625.5" cy="368.1" rx="4.84" ry="8.4" transform="rotate(-30 625.5 368.1)" fill="#fff" stroke="#2a2a2a" stroke-width="0.9" />
<path d="M627.3 370.67L630.63 374.04M627.73 369.22L631.21 372.1M626.83 366.79L628.08 363.66M625.36 365.44L626.1 361.85M623.7 365.53L620.37 362.16M623.27 366.98L619.79 364.1M624.17 369.41L622.92 372.54M625.64 370.76L624.9 374.35" fill="none" stroke="#2a2a2a" stroke-width="1.3"/>
<ellipse cx="625.5" cy="368.1" rx="3.28" ry="5.69" transform="rotate(-30 625.5 368.1)" fill="none" stroke="#2a2a2a" stroke-width="0.9" />
<ellipse cx="625.5" cy="368.1" rx="1.88" ry="3.25" transform="rotate(-30 625.5 368.1)" fill="#fff" stroke="#2a2a2a" stroke-width="1.1" />
<path d="M647.93 459.72 L647.72 458.97 L647.5 458.24 L647.45 457.81 L647.59 457.7 L647.72 457.58 L647.86 457.46 L647.98 457.33 L648.11 457.19 L648.23 457.05 L648.34 456.9 L648.45 456.75 L648.56 456.59 L648.66 456.42 L648.75 456.25 L648.84 456.07 L649.27 456.25 L649.84 456.55 L650.42 456.83 L651 457.08 L651.58 457.3 L651.87 457.23 L651.95 456.95 L652.01 456.67 L652.07 456.38 L652.12 456.09 L652.17 455.79 L652.21 455.49 L652.24 455.18 L652.26 454.86 L651.95 454.34 L651.44 453.71 L650.92 453.1 L650.39 452.52 L649.86 451.97 L649.58 451.57 L649.56 451.31 L649.54 451.05 L649.51 450.78 L649.48 450.51 L649.44 450.24 L649.39 449.97 L649.34 449.69 L649.28 449.42 L649.22 449.14 L649.16 448.86 L649.09 448.58 L649.01 448.3 L649.27 448.05 L649.66 447.79 L650.03 447.49 L650.39 447.16 L650.73 446.8 L650.79 446.43 L650.64 446.06 L650.49 445.7 L650.34 445.33 L650.18 444.97 L650.01 444.6 L649.84 444.24 L649.66 443.88 L649.48 443.53 L649.05 443.28 L648.48 443.14 L647.92 443.03 L647.38 442.95 L646.85 442.91 L646.52 442.77 L646.35 442.51 L646.18 442.26 L646 442 L645.83 441.75 L645.65 441.51 L645.46 441.26 L645.28 441.02 L645.09 440.79 L644.9 440.55 L644.7 440.33 L644.51 440.1 L644.31 439.88 L644.25 439.35 L644.22 438.68 L644.18 437.98 L644.1 437.27 L644 436.54 L643.79 436.08 L643.51 435.84 L643.24 435.6 L642.96 435.38 L642.68 435.15 L642.4 434.94 L642.12 434.73 L641.83 434.53 L641.55 434.34 L641.25 434.52 L640.96 434.95 L640.7 435.4 L640.46 435.87 L640.25 436.36 L640.04 436.56 L639.82 436.46 L639.61 436.36 L639.39 436.27 L639.17 436.19 L638.96 436.11 L638.75 436.04 L638.53 435.97 L638.32 435.91 L638.11 435.86 L637.9 435.82 L637.7 435.78 L637.49 435.75 L637.15 435.25 L636.73 434.56 L636.28 433.87 L635.82 433.19 L635.34 432.52 L634.98 432.25 L634.74 432.27 L634.49 432.31 L634.26 432.35 L634.02 432.4 L633.79 432.46 L633.56 432.52 L633.34 432.6 L633.13 432.69 L633.13 433.19 L633.29 433.94 L633.47 434.68 L633.68 435.43 L633.9 436.16 L633.95 436.59 L633.81 436.7 L633.68 436.82 L633.54 436.94 L633.42 437.07 L633.29 437.21 L633.17 437.35 L633.06 437.5 L632.95 437.65 L632.84 437.81 L632.74 437.98 L632.65 438.15 L632.56 438.33 L632.13 438.15 L631.56 437.85 L630.98 437.57 L630.4 437.32 L629.82 437.1 L629.53 437.17 L629.45 437.45 L629.39 437.73 L629.33 438.02 L629.28 438.31 L629.23 438.61 L629.19 438.91 L629.16 439.22 L629.14 439.54 L629.45 440.06 L629.96 440.69 L630.48 441.3 L631.01 441.88 L631.54 442.43 L631.82 442.83 L631.84 443.09 L631.86 443.35 L631.89 443.62 L631.92 443.89 L631.96 444.16 L632.01 444.43 L632.06 444.71 L632.12 444.98 L632.18 445.26 L632.24 445.54 L632.31 445.82 L632.39 446.1 L632.13 446.35 L631.74 446.61 L631.37 446.91 L631.01 447.24 L630.67 447.6 L630.61 447.97 L630.76 448.34 L630.91 448.7 L631.06 449.07 L631.22 449.43 L631.39 449.8 L631.56 450.16 L631.74 450.52 L631.92 450.87 L632.35 451.12 L632.92 451.26 L633.48 451.37 L634.02 451.45 L634.55 451.49 L634.88 451.63 L635.05 451.89 L635.22 452.14 L635.4 452.4 L635.57 452.65 L635.75 452.89 L635.94 453.14 L636.12 453.38 L636.31 453.61 L636.5 453.85 L636.7 454.07 L636.89 454.3 L637.09 454.52 L637.15 455.05 L637.18 455.72 L637.22 456.42 L637.3 457.13 L637.4 457.86 L637.61 458.32 L637.89 458.56 L638.16 458.8 L638.44 459.02 L638.72 459.25 L639 459.46 L639.28 459.67 L639.57 459.87 L639.85 460.06 L640.15 459.88 L640.44 459.45 L640.7 459 L640.94 458.53 L641.15 458.04 L641.36 457.84 L641.58 457.94 L641.79 458.04 L642.01 458.13 L642.23 458.21 L642.44 458.29 L642.65 458.36 L642.87 458.43 L643.08 458.49 L643.29 458.54 L643.5 458.58 L643.7 458.62 L643.91 458.65 L644.25 459.15 L644.67 459.84 L645.12 460.53 L645.58 461.21 L646.06 461.88 L646.42 462.15 L646.66 462.13 L646.91 462.09 L647.14 462.05 L647.38 462 L647.61 461.94 L647.84 461.88 L648.06 461.8 L648.27 461.71 L648.27 461.21 L648.11 460.46 Z" fill="#fff" stroke="#2a2a2a" stroke-width="1.0" stroke-linejoin="round" />
<ellipse cx="640.7" cy="447.2" rx="6" ry="10.4" transform="rotate(-30 640.7 447.2)" fill="none" stroke="#303030" stroke-width="2.576" stroke-dasharray="1.16 0.85"/>
<ellipse cx="640.7" cy="447.2" rx="4.62" ry="8" transform="rotate(-30 640.7 447.2)" fill="#fff" stroke="#2a2a2a" stroke-width="0.8" />
<path d="M666.33 449.52 L666.12 448.77 L665.9 448.04 L665.85 447.61 L665.99 447.5 L666.12 447.38 L666.26 447.26 L666.38 447.13 L666.51 446.99 L666.63 446.85 L666.74 446.7 L666.85 446.55 L666.96 446.39 L667.06 446.22 L667.15 446.05 L667.24 445.87 L667.67 446.05 L668.24 446.35 L668.82 446.63 L669.4 446.88 L669.98 447.1 L670.27 447.03 L670.35 446.75 L670.41 446.47 L670.47 446.18 L670.52 445.89 L670.57 445.59 L670.61 445.29 L670.64 444.98 L670.66 444.66 L670.35 444.14 L669.84 443.51 L669.32 442.9 L668.79 442.32 L668.26 441.77 L667.98 441.37 L667.96 441.11 L667.94 440.85 L667.91 440.58 L667.88 440.31 L667.84 440.04 L667.79 439.77 L667.74 439.49 L667.68 439.22 L667.62 438.94 L667.56 438.66 L667.49 438.38 L667.41 438.1 L667.67 437.85 L668.06 437.59 L668.43 437.29 L668.79 436.96 L669.13 436.6 L669.19 436.23 L669.04 435.86 L668.89 435.5 L668.74 435.13 L668.58 434.77 L668.41 434.4 L668.24 434.04 L668.06 433.68 L667.88 433.33 L667.45 433.08 L666.88 432.94 L666.32 432.83 L665.78 432.75 L665.25 432.71 L664.92 432.57 L664.75 432.31 L664.58 432.06 L664.4 431.8 L664.23 431.55 L664.05 431.31 L663.86 431.06 L663.68 430.82 L663.49 430.59 L663.3 430.35 L663.1 430.13 L662.91 429.9 L662.71 429.68 L662.65 429.15 L662.62 428.48 L662.58 427.78 L662.5 427.07 L662.4 426.34 L662.19 425.88 L661.91 425.64 L661.64 425.4 L661.36 425.18 L661.08 424.95 L660.8 424.74 L660.52 424.53 L660.23 424.33 L659.95 424.14 L659.65 424.32 L659.36 424.75 L659.1 425.2 L658.86 425.67 L658.65 426.16 L658.44 426.36 L658.22 426.26 L658.01 426.16 L657.79 426.07 L657.57 425.99 L657.36 425.91 L657.15 425.84 L656.93 425.77 L656.72 425.71 L656.51 425.66 L656.3 425.62 L656.1 425.58 L655.89 425.55 L655.55 425.05 L655.13 424.36 L654.68 423.67 L654.22 422.99 L653.74 422.32 L653.38 422.05 L653.14 422.07 L652.89 422.11 L652.66 422.15 L652.42 422.2 L652.19 422.26 L651.96 422.32 L651.74 422.4 L651.53 422.49 L651.53 422.99 L651.69 423.74 L651.87 424.48 L652.08 425.23 L652.3 425.96 L652.35 426.39 L652.21 426.5 L652.08 426.62 L651.94 426.74 L651.82 426.87 L651.69 427.01 L651.57 427.15 L651.46 427.3 L651.35 427.45 L651.24 427.61 L651.14 427.78 L651.05 427.95 L650.96 428.13 L650.53 427.95 L649.96 427.65 L649.38 427.37 L648.8 427.12 L648.22 426.9 L647.93 426.97 L647.85 427.25 L647.79 427.53 L647.73 427.82 L647.68 428.11 L647.63 428.41 L647.59 428.71 L647.56 429.02 L647.54 429.34 L647.85 429.86 L648.36 430.49 L648.88 431.1 L649.41 431.68 L649.94 432.23 L650.22 432.63 L650.24 432.89 L650.26 433.15 L650.29 433.42 L650.32 433.69 L650.36 433.96 L650.41 434.23 L650.46 434.51 L650.52 434.78 L650.58 435.06 L650.64 435.34 L650.71 435.62 L650.79 435.9 L650.53 436.15 L650.14 436.41 L649.77 436.71 L649.41 437.04 L649.07 437.4 L649.01 437.77 L649.16 438.14 L649.31 438.5 L649.46 438.87 L649.62 439.23 L649.79 439.6 L649.96 439.96 L650.14 440.32 L650.32 440.67 L650.75 440.92 L651.32 441.06 L651.88 441.17 L652.42 441.25 L652.95 441.29 L653.28 441.43 L653.45 441.69 L653.62 441.94 L653.8 442.2 L653.97 442.45 L654.15 442.69 L654.34 442.94 L654.52 443.18 L654.71 443.41 L654.9 443.65 L655.1 443.87 L655.29 444.1 L655.49 444.32 L655.55 444.85 L655.58 445.52 L655.62 446.22 L655.7 446.93 L655.8 447.66 L656.01 448.12 L656.29 448.36 L656.56 448.6 L656.84 448.82 L657.12 449.05 L657.4 449.26 L657.68 449.47 L657.97 449.67 L658.25 449.86 L658.55 449.68 L658.84 449.25 L659.1 448.8 L659.34 448.33 L659.55 447.84 L659.76 447.64 L659.98 447.74 L660.19 447.84 L660.41 447.93 L660.63 448.01 L660.84 448.09 L661.05 448.16 L661.27 448.23 L661.48 448.29 L661.69 448.34 L661.9 448.38 L662.1 448.42 L662.31 448.45 L662.65 448.95 L663.07 449.64 L663.52 450.33 L663.98 451.01 L664.46 451.68 L664.82 451.95 L665.06 451.93 L665.31 451.89 L665.54 451.85 L665.78 451.8 L666.01 451.74 L666.24 451.68 L666.46 451.6 L666.67 451.51 L666.67 451.01 L666.51 450.26 Z" fill="#fff" stroke="#2a2a2a" stroke-width="1.0" stroke-linejoin="round" />
<ellipse cx="659.1" cy="437" rx="6" ry="10.4" transform="rotate(-30 659.1 437)" fill="none" stroke="#303030" stroke-width="2.576" stroke-dasharray="1.16 0.85"/>
<ellipse cx="659.1" cy="437" rx="4.62" ry="8" transform="rotate(-30 659.1 437)" fill="#fff" stroke="#2a2a2a" stroke-width="0.8" />
<ellipse cx="676.6" cy="426.5" rx="7.27" ry="12.6" transform="rotate(-30 676.6 426.5)" fill="#fff" stroke="#2a2a2a" stroke-width="0.8" />
<ellipse cx="676.6" cy="426.5" rx="6.06" ry="10.5" transform="rotate(-30 676.6 426.5)" fill="none" stroke="#444" stroke-width="2.5999999999999996" stroke-dasharray="1.04 1.09"/>
<path d="M680.3 432.91 L680.46 432.81 L680.62 432.69 L680.76 432.56 L680.9 432.42 L681.81 433.29 L681.95 433.1 L682.08 432.89 L682.2 432.67 L682.31 432.44 L681.54 431.35 L681.61 431.13 L681.67 430.91 L681.73 430.67 L682.67 431.12 L682.71 430.83 L682.74 430.52 L682.75 430.21 L682.75 429.89 L682.74 429.57 L681.8 428.83 L681.77 428.54 L681.72 428.25 L681.67 427.95 L681.61 427.66 L682.4 427.51 L682.31 427.15 L682.2 426.8 L682.08 426.44 L681.95 426.08 L681.03 425.84 L680.9 425.54 L680.76 425.24 L680.61 424.95 L680.46 424.65 L680.95 423.99 L680.75 423.65 L680.54 423.32 L680.32 423 L680.1 422.69 L679.38 422.99 L679.18 422.74 L678.97 422.49 L678.76 422.25 L678.55 422.02 L678.63 420.97 L678.37 420.72 L678.1 420.48 L677.83 420.25 L677.56 420.04 L677.18 420.84 L676.95 420.68 L676.72 420.53 L676.48 420.39 L676.18 419.17 L675.91 419.04 L675.64 418.93 L675.36 418.83 L675.1 418.74 L674.83 418.68 L674.87 419.8 L674.65 419.77 L674.44 419.75 L674.22 419.75 L674.02 419.75 L673.33 418.6 L673.1 418.64 L672.87 418.7 L672.66 418.77 L672.45 418.86 L672.9 420.09 L672.74 420.19 L672.58 420.31 L672.44 420.44 L671.54 419.53 L671.39 419.71 L671.25 419.9 L671.12 420.11 L671 420.33 L670.89 420.56 L671.66 421.65 L671.59 421.87 L671.53 422.09 L671.47 422.33 L670.53 421.88 L670.49 422.17 L670.46 422.48 L670.45 422.79 L670.45 423.11 L670.46 423.43 L671.4 424.17 L671.43 424.46 L671.48 424.75 L671.53 425.05 L671.59 425.34 L670.8 425.49 L670.89 425.85 L671 426.2 L671.12 426.56 L671.25 426.92 L672.17 427.16 L672.3 427.46 L672.44 427.76 L672.59 428.05 L672.06 428.67 L672.25 429.01 L672.45 429.35 L672.66 429.68 L672.88 430 L673.1 430.31 L673.82 430.01 L674.02 430.26 L674.23 430.51 L674.44 430.75 L674.31 431.77 L674.57 432.03 L674.83 432.28 L675.1 432.52 L675.37 432.75 L675.64 432.96 L676.02 432.16 L676.25 432.32 L676.48 432.47 L676.72 432.61 L676.95 432.73 L677.29 433.96 L677.56 434.07 L677.84 434.17 L678.1 434.26 L678.37 434.32 L678.33 433.2 L678.55 433.23 L678.76 433.25 L678.98 433.25 L679.64 434.43 L679.87 434.4 L680.1 434.36 L680.33 434.3 L680.54 434.23 L680.75 434.14 Z" fill="#fff" stroke="#2a2a2a" stroke-width="0.8" stroke-linejoin="round" />
<path d="M700.15 425.66 L700.43 425.48 L700.69 425.29 L700.94 425.07 L700.25 423.55 L700.45 423.33 L700.63 423.09 L700.8 422.83 L701.98 423.7 L702.14 423.37 L702.29 423.02 L702.42 422.65 L701.44 421.31 L701.52 420.96 L701.59 420.6 L701.64 420.23 L702.81 420.61 L702.83 420.17 L702.84 419.71 L702.83 419.24 L701.68 418.23 L701.64 417.8 L701.59 417.37 L701.52 416.93 L702.53 416.78 L702.42 416.27 L702.29 415.76 L702.14 415.24 L700.95 414.69 L700.8 414.23 L700.63 413.78 L700.45 413.33 L701.18 412.66 L700.94 412.15 L700.69 411.64 L700.43 411.14 L699.35 411.11 L699.09 410.68 L698.83 410.26 L698.56 409.85 L698.92 408.75 L698.59 408.3 L698.24 407.86 L697.89 407.44 L697.53 407.03 L696.73 407.58 L696.41 407.25 L696.07 406.92 L696.03 405.52 L695.64 405.19 L695.24 404.87 L694.85 404.57 L694.35 405.53 L694 405.31 L693.65 405.09 L693.3 404.9 L692.85 403.36 L692.45 403.19 L692.05 403.03 L691.66 402.89 L691.27 402.77 L691.23 404.12 L690.89 404.06 L690.57 404.02 L689.77 402.54 L689.41 402.53 L689.05 402.55 L688.71 402.6 L689.03 404.11 L688.74 404.18 L688.47 404.28 L688.21 404.39 L687.15 403.14 L686.87 403.32 L686.61 403.51 L686.36 403.73 L687.05 405.25 L686.85 405.47 L686.67 405.71 L686.5 405.97 L685.32 405.1 L685.16 405.43 L685.02 405.78 L684.89 406.15 L685.87 407.49 L685.78 407.84 L685.72 408.2 L685.66 408.57 L685.62 408.95 L684.47 408.63 L684.46 409.09 L684.47 409.56 L685.62 410.57 L685.66 411 L685.72 411.43 L685.78 411.87 L684.78 412.02 L684.89 412.53 L685.02 413.04 L685.16 413.56 L686.35 414.11 L686.5 414.57 L686.67 415.02 L686.86 415.47 L686.13 416.14 L686.36 416.65 L686.61 417.16 L686.88 417.66 L687.96 417.69 L688.21 418.12 L688.47 418.54 L688.75 418.95 L688.38 420.05 L688.72 420.5 L689.06 420.94 L689.41 421.36 L690.25 420.87 L690.57 421.22 L690.9 421.55 L691.23 421.88 L691.57 422.18 L691.67 423.61 L692.06 423.93 L692.45 424.23 L692.95 423.27 L693.3 423.49 L693.65 423.71 L694.01 423.9 L694.46 425.44 L694.85 425.61 L695.25 425.77 L695.64 425.91 L695.74 424.59 L696.08 424.68 L696.41 424.74 L696.74 424.78 L697.54 426.26 L697.9 426.27 L698.25 426.25 L698.59 426.2 L698.28 424.69 L698.56 424.62 L698.83 424.52 L699.1 424.41 Z" fill="#fff" stroke="#2a2a2a" stroke-width="0.9" stroke-linejoin="round" />
<ellipse cx="691.4" cy="415.7" rx="7.21" ry="12.5" transform="rotate(-30 691.4 415.7)" fill="#fff" stroke="#2a2a2a" stroke-width="1.0" />
<ellipse cx="691.4" cy="415.7" rx="5.89" ry="10.2" transform="rotate(-30 691.4 415.7)" fill="none" stroke="#2a2a2a" stroke-width="1.8055555555555556" stroke-dasharray="1.3 0.8"/>
<ellipse cx="691.4" cy="415.7" rx="4.84" ry="8.4" transform="rotate(-30 691.4 415.7)" fill="#fff" stroke="#2a2a2a" stroke-width="0.9" />
<path d="M693.2 418.27L696.53 421.64M693.63 416.82L697.11 419.7M692.73 414.39L693.98 411.26M691.26 413.04L692 409.45M689.6 413.13L686.27 409.76M689.17 414.58L685.69 411.7M690.07 417.01L688.82 420.14M691.54 418.36L690.8 421.95" fill="none" stroke="#2a2a2a" stroke-width="1.3"/>
<ellipse cx="691.4" cy="415.7" rx="3.28" ry="5.69" transform="rotate(-30 691.4 415.7)" fill="none" stroke="#2a2a2a" stroke-width="0.9" />
<ellipse cx="691.4" cy="415.7" rx="1.88" ry="3.25" transform="rotate(-30 691.4 415.7)" fill="#fff" stroke="#2a2a2a" stroke-width="1.1" />
<g font-family="'Liberation Sans', Arial, sans-serif" fill="#222" stroke="#222" stroke-width="0.2">
<text x="63.1" y="179.9" font-size="12.4" textLength="191.4" lengthAdjust="spacingAndGlyphs" >29mm CENTER DIFF LSD SETUP</text>
<text x="61.6" y="193.3" font-size="12.4" textLength="320" lengthAdjust="spacingAndGlyphs" >ARA310991 LIMITED SLIP CENTER DIFF SET 50T 100K</text>
<text x="674.1" y="128.7" font-size="12.4" textLength="58" lengthAdjust="spacingAndGlyphs" >AR722312</text>
<text x="542.6" y="152.7" font-size="12.4" textLength="65.6" lengthAdjust="spacingAndGlyphs" >ARA310981</text>
<text x="579.1" y="229.9" font-size="12.4" textLength="65.8" lengthAdjust="spacingAndGlyphs" >ARA610037</text>
<text x="452.6" y="173.4" font-size="12.4" textLength="66.2" lengthAdjust="spacingAndGlyphs" >ARA310978</text>
<text x="419.3" y="209.6" font-size="12.4" textLength="66" lengthAdjust="spacingAndGlyphs" >ARA310982</text>
<text x="354.4" y="232.4" font-size="12.4" textLength="65.5" lengthAdjust="spacingAndGlyphs" >ARA311094</text>
<text x="301.6" y="256.6" font-size="12.4" textLength="66.2" lengthAdjust="spacingAndGlyphs" >ARA310985</text>
<text x="495.6" y="291.7" font-size="12.4" textLength="66.4" lengthAdjust="spacingAndGlyphs" >ARA716033</text>
<text x="204.8" y="326.3" font-size="12.4" textLength="65.6" lengthAdjust="spacingAndGlyphs" >ARA310984</text>
<text x="422.1" y="359.3" font-size="12.4" textLength="66" lengthAdjust="spacingAndGlyphs" >ARA310984</text>
<text x="153.85" y="356.7" font-size="12.4" textLength="65.3" lengthAdjust="spacingAndGlyphs" >ARA311094</text>
<text x="118.4" y="388.7" font-size="12.4" textLength="66.4" lengthAdjust="spacingAndGlyphs" >ARA310983</text>
<text x="338.1" y="401.9" font-size="12.4" textLength="66" lengthAdjust="spacingAndGlyphs" >ARA713033</text>
<text x="62.5" y="417.2" font-size="12.4" textLength="65.7" lengthAdjust="spacingAndGlyphs" >ARA610037</text>
<text x="195.7" y="453.9" font-size="12.4" textLength="66.3" lengthAdjust="spacingAndGlyphs" >ARA716033</text>
<text x="111.4" y="490.7" font-size="12.4" textLength="65.3" lengthAdjust="spacingAndGlyphs" >ARA310981</text>
<text x="620.7" y="340.8" font-size="12.4" textLength="98.8" lengthAdjust="spacingAndGlyphs" >Limited Slip Effect</text>
<text x="535.7" y="360.8" font-size="12.4" textLength="59.1" lengthAdjust="spacingAndGlyphs" >MAXIMUM</text>
<text x="535.7" y="375" font-size="12.4" textLength="29.6" lengthAdjust="spacingAndGlyphs" >effect</text>
<text x="648.4" y="381.9" font-size="12.4" textLength="45.4" lengthAdjust="spacingAndGlyphs" >3x faces</text>
<text x="577.5" y="439.6" font-size="12.4" textLength="38.1" lengthAdjust="spacingAndGlyphs" >1x face</text>
<text x="669.9" y="458.6" font-size="12.4" textLength="54.8" lengthAdjust="spacingAndGlyphs" >MINIMUM</text>
<text x="669.9" y="473.5" font-size="12.4" textLength="29.6" lengthAdjust="spacingAndGlyphs" >effect</text>
</g>
</svg>
</body></html>
